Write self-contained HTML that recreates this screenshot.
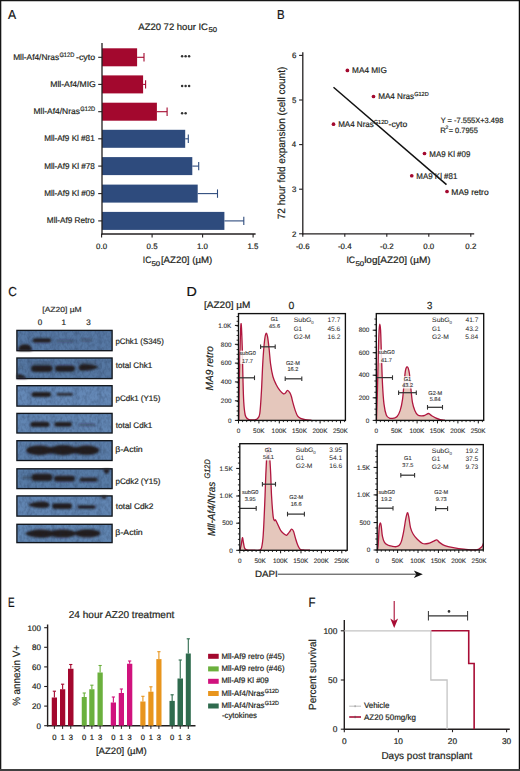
<!DOCTYPE html><html><head><meta charset="utf-8"><title>Figure</title><style>html,body{margin:0;padding:0;background:#fff;}svg{display:block;font-family:"Liberation Sans",sans-serif;text-rendering:geometricPrecision;}</style></head><body>
<svg width="520" height="771" viewBox="0 0 520 771">
<defs>
<filter id="bl1" x="-20%" y="-50%" width="140%" height="200%"><feGaussianBlur stdDeviation="1.3 1.0"/></filter><filter id="noise" x="0" y="0" width="100%" height="100%" color-interpolation-filters="sRGB"><feTurbulence type="fractalNoise" baseFrequency="0.4 0.25" numOctaves="2" seed="7"/><feColorMatrix type="matrix" values="0 0 0 0 0.1  0 0 0 0 0.15  0 0 0 0 0.25  0.5 0 0 0 -0.19"/></filter><filter id="bl2" x="-100%" y="-100%" width="300%" height="300%"><feGaussianBlur stdDeviation="0.35"/></filter>
</defs>
<rect width="520" height="771" fill="#fff"/>
<text x="8.10" y="18.75" font-size="13.0" fill="#111" stroke="#111" stroke-width="0.2" textLength="8.12" lengthAdjust="spacingAndGlyphs" >A</text>
<text x="138.30" y="30.00" font-size="9.36" fill="#231f20" stroke="#231f20" stroke-width="0.2" textLength="69.66" lengthAdjust="spacingAndGlyphs" >AZ20 72 hour IC</text>
<text x="208.49" y="32.40" font-size="7.0" fill="#231f20" stroke="#231f20" stroke-width="0.2" textLength="8.60" lengthAdjust="spacingAndGlyphs" >50</text>
<rect x="102.00" y="48.30" width="35.10" height="18.00" fill="#a3082e" />
<line x1="137.10" y1="57.30" x2="144.00" y2="57.30" stroke="#a3082e" stroke-width="1.1" />
<line x1="144.00" y1="53.10" x2="144.00" y2="61.50" stroke="#a3082e" stroke-width="1.1" />
<line x1="98.20" y1="57.30" x2="102.00" y2="57.30" stroke="#231f20" stroke-width="1.1" />
<rect x="102.00" y="75.40" width="41.10" height="18.00" fill="#a3082e" />
<line x1="143.10" y1="84.40" x2="145.60" y2="84.40" stroke="#a3082e" stroke-width="1.1" />
<line x1="145.60" y1="80.20" x2="145.60" y2="88.60" stroke="#a3082e" stroke-width="1.1" />
<line x1="98.20" y1="84.40" x2="102.00" y2="84.40" stroke="#231f20" stroke-width="1.1" />
<rect x="102.00" y="102.70" width="54.90" height="18.00" fill="#a3082e" />
<line x1="156.90" y1="111.70" x2="167.10" y2="111.70" stroke="#a3082e" stroke-width="1.1" />
<line x1="167.10" y1="107.50" x2="167.10" y2="115.90" stroke="#a3082e" stroke-width="1.1" />
<line x1="98.20" y1="111.70" x2="102.00" y2="111.70" stroke="#231f20" stroke-width="1.1" />
<rect x="102.00" y="129.80" width="83.20" height="18.00" fill="#2e4b7d" />
<line x1="185.20" y1="138.80" x2="188.30" y2="138.80" stroke="#2e4b7d" stroke-width="1.1" />
<line x1="188.30" y1="134.60" x2="188.30" y2="143.00" stroke="#2e4b7d" stroke-width="1.1" />
<line x1="98.20" y1="138.80" x2="102.00" y2="138.80" stroke="#231f20" stroke-width="1.1" />
<rect x="102.00" y="157.10" width="90.30" height="18.00" fill="#2e4b7d" />
<line x1="192.30" y1="166.10" x2="198.70" y2="166.10" stroke="#2e4b7d" stroke-width="1.1" />
<line x1="198.70" y1="161.90" x2="198.70" y2="170.30" stroke="#2e4b7d" stroke-width="1.1" />
<line x1="98.20" y1="166.10" x2="102.00" y2="166.10" stroke="#231f20" stroke-width="1.1" />
<rect x="102.00" y="184.60" width="95.70" height="18.00" fill="#2e4b7d" />
<line x1="197.70" y1="193.60" x2="217.50" y2="193.60" stroke="#2e4b7d" stroke-width="1.1" />
<line x1="217.50" y1="189.40" x2="217.50" y2="197.80" stroke="#2e4b7d" stroke-width="1.1" />
<line x1="98.20" y1="193.60" x2="102.00" y2="193.60" stroke="#231f20" stroke-width="1.1" />
<rect x="102.00" y="211.90" width="122.40" height="18.00" fill="#2e4b7d" />
<line x1="224.40" y1="220.90" x2="243.80" y2="220.90" stroke="#2e4b7d" stroke-width="1.1" />
<line x1="243.80" y1="216.70" x2="243.80" y2="225.10" stroke="#2e4b7d" stroke-width="1.1" />
<line x1="98.20" y1="220.90" x2="102.00" y2="220.90" stroke="#231f20" stroke-width="1.1" />
<text x="13.13" y="60.10" font-size="8.4" fill="#231f20" stroke="#231f20" stroke-width="0.2" textLength="45.97" lengthAdjust="spacingAndGlyphs" >Mll-Af4/Nras</text>
<text x="59.42" y="56.70" font-size="6.4" fill="#231f20" stroke="#231f20" stroke-width="0.2" textLength="14.85" lengthAdjust="spacingAndGlyphs" >G12D</text>
<text x="76.00" y="60.10" font-size="8.4" fill="#231f20" stroke="#231f20" stroke-width="0.2" textLength="19.17" lengthAdjust="spacingAndGlyphs" >-cyto</text>
<text x="50.21" y="87.00" font-size="8.4" fill="#231f20" stroke="#231f20" stroke-width="0.2" textLength="45.62" lengthAdjust="spacingAndGlyphs" >Mll-Af4/MIG</text>
<text x="33.53" y="113.90" font-size="8.4" fill="#231f20" stroke="#231f20" stroke-width="0.2" textLength="46.38" lengthAdjust="spacingAndGlyphs" >Mll-Af4/Nras</text>
<text x="80.32" y="110.50" font-size="6.4" fill="#231f20" stroke="#231f20" stroke-width="0.2" textLength="14.85" lengthAdjust="spacingAndGlyphs" >G12D</text>
<text x="44.15" y="141.40" font-size="8.4" fill="#231f20" stroke="#231f20" stroke-width="0.2" textLength="50.51" lengthAdjust="spacingAndGlyphs" >Mll-Af9 Kl #81</text>
<text x="44.15" y="168.60" font-size="8.4" fill="#231f20" stroke="#231f20" stroke-width="0.2" textLength="50.68" lengthAdjust="spacingAndGlyphs" >Mll-Af9 Kl #78</text>
<text x="44.15" y="195.90" font-size="8.4" fill="#231f20" stroke="#231f20" stroke-width="0.2" textLength="50.72" lengthAdjust="spacingAndGlyphs" >Mll-Af9 Kl #09</text>
<text x="46.84" y="223.10" font-size="8.4" fill="#231f20" stroke="#231f20" stroke-width="0.2" textLength="47.78" lengthAdjust="spacingAndGlyphs" >Mll-Af9 Retro</text>
<line x1="102.00" y1="42.90" x2="102.00" y2="234.60" stroke="#231f20" stroke-width="1.3" />
<line x1="101.40" y1="234.00" x2="255.60" y2="234.00" stroke="#231f20" stroke-width="1.3" />
<line x1="101.60" y1="234.00" x2="101.60" y2="237.60" stroke="#231f20" stroke-width="1.1" />
<text x="96.09" y="248.70" font-size="7.9" fill="#231f20" stroke="#231f20" stroke-width="0.2" >0.0</text>
<line x1="152.10" y1="234.00" x2="152.10" y2="237.60" stroke="#231f20" stroke-width="1.1" />
<text x="146.61" y="248.70" font-size="7.9" fill="#231f20" stroke="#231f20" stroke-width="0.2" >0.5</text>
<line x1="202.60" y1="234.00" x2="202.60" y2="237.60" stroke="#231f20" stroke-width="1.1" />
<text x="196.95" y="248.70" font-size="7.9" fill="#231f20" stroke="#231f20" stroke-width="0.2" >1.0</text>
<line x1="253.10" y1="234.00" x2="253.10" y2="237.60" stroke="#231f20" stroke-width="1.1" />
<text x="247.47" y="248.70" font-size="7.9" fill="#231f20" stroke="#231f20" stroke-width="0.2" >1.5</text>
<circle cx="182.10" cy="56.20" r="1.25" fill="#333" filter="url(#bl2)"/>
<circle cx="185.60" cy="56.20" r="1.25" fill="#333" filter="url(#bl2)"/>
<circle cx="189.10" cy="56.20" r="1.25" fill="#333" filter="url(#bl2)"/>
<circle cx="182.10" cy="86.00" r="1.25" fill="#333" filter="url(#bl2)"/>
<circle cx="185.60" cy="86.00" r="1.25" fill="#333" filter="url(#bl2)"/>
<circle cx="189.10" cy="86.00" r="1.25" fill="#333" filter="url(#bl2)"/>
<circle cx="182.10" cy="113.20" r="1.25" fill="#333" filter="url(#bl2)"/>
<circle cx="185.60" cy="113.20" r="1.25" fill="#333" filter="url(#bl2)"/>
<text x="142.84" y="262.80" font-size="9.36" fill="#231f20" stroke="#231f20" stroke-width="0.2" textLength="8.46" lengthAdjust="spacingAndGlyphs" >IC</text>
<text x="151.49" y="265.60" font-size="6.8" fill="#231f20" stroke="#231f20" stroke-width="0.2" textLength="8.71" lengthAdjust="spacingAndGlyphs" >50</text>
<text x="160.92" y="262.80" font-size="9.36" fill="#231f20" stroke="#231f20" stroke-width="0.2" textLength="51.40" lengthAdjust="spacingAndGlyphs" >[AZ20] (µM)</text>
<text x="277.09" y="18.75" font-size="13.0" fill="#111" stroke="#111" stroke-width="0.2" textLength="7.61" lengthAdjust="spacingAndGlyphs" >B</text>
<line x1="302.80" y1="52.30" x2="302.80" y2="234.40" stroke="#231f20" stroke-width="1.3" />
<line x1="302.20" y1="233.80" x2="474.20" y2="233.80" stroke="#231f20" stroke-width="1.3" />
<line x1="299.10" y1="233.80" x2="302.80" y2="233.80" stroke="#231f20" stroke-width="1.1" />
<text x="292.01" y="236.55" font-size="7.9" fill="#231f20" stroke="#231f20" stroke-width="0.2" >2</text>
<line x1="299.10" y1="189.20" x2="302.80" y2="189.20" stroke="#231f20" stroke-width="1.1" />
<text x="291.93" y="191.95" font-size="7.9" fill="#231f20" stroke="#231f20" stroke-width="0.2" >3</text>
<line x1="299.10" y1="144.60" x2="302.80" y2="144.60" stroke="#231f20" stroke-width="1.1" />
<text x="291.81" y="147.35" font-size="7.9" fill="#231f20" stroke="#231f20" stroke-width="0.2" >4</text>
<line x1="299.10" y1="100.00" x2="302.80" y2="100.00" stroke="#231f20" stroke-width="1.1" />
<text x="291.93" y="102.75" font-size="7.9" fill="#231f20" stroke="#231f20" stroke-width="0.2" >5</text>
<line x1="299.10" y1="55.40" x2="302.80" y2="55.40" stroke="#231f20" stroke-width="1.1" />
<text x="291.93" y="58.15" font-size="7.9" fill="#231f20" stroke="#231f20" stroke-width="0.2" >6</text>
<line x1="302.80" y1="233.80" x2="302.80" y2="236.80" stroke="#231f20" stroke-width="1.1" />
<text x="295.99" y="248.60" font-size="7.9" fill="#231f20" stroke="#231f20" stroke-width="0.2" >-0.6</text>
<line x1="344.80" y1="233.80" x2="344.80" y2="236.80" stroke="#231f20" stroke-width="1.1" />
<text x="337.93" y="248.60" font-size="7.9" fill="#231f20" stroke="#231f20" stroke-width="0.2" >-0.4</text>
<line x1="386.80" y1="233.80" x2="386.80" y2="236.80" stroke="#231f20" stroke-width="1.1" />
<text x="380.03" y="248.60" font-size="7.9" fill="#231f20" stroke="#231f20" stroke-width="0.2" >-0.2</text>
<line x1="428.80" y1="233.80" x2="428.80" y2="236.80" stroke="#231f20" stroke-width="1.1" />
<text x="423.29" y="248.60" font-size="7.9" fill="#231f20" stroke="#231f20" stroke-width="0.2" >0.0</text>
<line x1="470.80" y1="233.80" x2="470.80" y2="236.80" stroke="#231f20" stroke-width="1.1" />
<text x="465.35" y="248.60" font-size="7.9" fill="#231f20" stroke="#231f20" stroke-width="0.2" >0.2</text>
<line x1="333.50" y1="87.20" x2="446.50" y2="184.60" stroke="#111" stroke-width="1.5" />
<circle cx="347.4" cy="70.4" r="1.85" fill="#a3082e"/>
<circle cx="373.5" cy="96.5" r="1.85" fill="#a3082e"/>
<circle cx="333.5" cy="124.2" r="1.85" fill="#a3082e"/>
<circle cx="424.5" cy="153.5" r="1.85" fill="#a3082e"/>
<circle cx="411.75" cy="175.75" r="1.85" fill="#a3082e"/>
<circle cx="447" cy="191.5" r="1.85" fill="#a3082e"/>
<text x="352.04" y="73.40" font-size="8.4" fill="#231f20" stroke="#231f20" stroke-width="0.2" textLength="34.76" lengthAdjust="spacingAndGlyphs" >MA4 MIG</text>
<text x="378.15" y="99.30" font-size="8.4" fill="#231f20" stroke="#231f20" stroke-width="0.2" textLength="36.04" lengthAdjust="spacingAndGlyphs" >MA4 Nras</text>
<text x="414.22" y="95.90" font-size="5.8" fill="#231f20" stroke="#231f20" stroke-width="0.2" textLength="14.44" lengthAdjust="spacingAndGlyphs" >G12D</text>
<text x="338.16" y="127.00" font-size="8.4" fill="#231f20" stroke="#231f20" stroke-width="0.2" textLength="35.63" lengthAdjust="spacingAndGlyphs" >MA4 Nras</text>
<text x="373.72" y="123.60" font-size="5.8" fill="#231f20" stroke="#231f20" stroke-width="0.2" textLength="14.54" lengthAdjust="spacingAndGlyphs" >G12D</text>
<text x="388.61" y="127.00" font-size="8.4" fill="#231f20" stroke="#231f20" stroke-width="0.2" textLength="18.65" lengthAdjust="spacingAndGlyphs" >-cyto</text>
<text x="429.37" y="156.60" font-size="8.4" fill="#231f20" stroke="#231f20" stroke-width="0.2" textLength="40.99" lengthAdjust="spacingAndGlyphs" >MA9 Kl #09</text>
<text x="416.37" y="178.80" font-size="8.4" fill="#231f20" stroke="#231f20" stroke-width="0.2" textLength="40.99" lengthAdjust="spacingAndGlyphs" >MA9 Kl #81</text>
<text x="451.32" y="194.60" font-size="8.4" fill="#231f20" stroke="#231f20" stroke-width="0.2" textLength="37.32" lengthAdjust="spacingAndGlyphs" >MA9 retro</text>
<text x="440.65" y="122.50" font-size="7.7" fill="#231f20" stroke="#231f20" stroke-width="0.2" textLength="62.67" lengthAdjust="spacingAndGlyphs" >Y = -7.555X+3.498</text>
<text x="440.18" y="132.50" font-size="7.7" fill="#231f20" stroke="#231f20" stroke-width="0.2" >R</text>
<text x="445.55" y="129.00" font-size="5.0" fill="#231f20" stroke="#231f20" stroke-width="0.2" >2</text>
<text x="448.63" y="132.50" font-size="7.7" fill="#231f20" stroke="#231f20" stroke-width="0.2" textLength="29.17" lengthAdjust="spacingAndGlyphs" >= 0.7955</text>
<text transform="translate(285.00,218.70) rotate(-90)" x="-0.50" y="0" font-size="10.5" fill="#231f20" textLength="152.42" lengthAdjust="spacingAndGlyphs" stroke="#231f20" stroke-width="0.2">72 hour fold expansion (cell count)</text>
<text x="346.42" y="262.60" font-size="9.36" fill="#231f20" stroke="#231f20" stroke-width="0.2" textLength="8.69" lengthAdjust="spacingAndGlyphs" >IC</text>
<text x="355.49" y="265.50" font-size="6.8" fill="#231f20" stroke="#231f20" stroke-width="0.2" textLength="8.71" lengthAdjust="spacingAndGlyphs" >50</text>
<text x="364.15" y="262.60" font-size="9.36" fill="#231f20" stroke="#231f20" stroke-width="0.2" textLength="66.49" lengthAdjust="spacingAndGlyphs" >log[AZ20] (µM)</text>
<text x="8.16" y="296.30" font-size="13.0" fill="#111" stroke="#111" stroke-width="0.2" textLength="8.59" lengthAdjust="spacingAndGlyphs" >C</text>
<text x="42.30" y="312.10" font-size="7.4" fill="#333" stroke="#333" stroke-width="0.2" textLength="39.40" lengthAdjust="spacingAndGlyphs" >[AZ20] µM</text>
<text x="37.76" y="324.50" font-size="8.0" fill="#231f20" stroke="#231f20" stroke-width="0.2" >0</text>
<text x="61.46" y="324.50" font-size="8.0" fill="#231f20" stroke="#231f20" stroke-width="0.2" >1</text>
<text x="86.20" y="324.60" font-size="8.0" fill="#231f20" stroke="#231f20" stroke-width="0.2" >3</text>
<rect x="16.9" y="330.40" width="95.2" height="20.30" fill="#5678a4" stroke="#10151c" stroke-width="1.35"/>
<text x="115.49" y="343.60" font-size="8.0" fill="#231f20" stroke="#231f20" stroke-width="0.2" textLength="48.32" lengthAdjust="spacingAndGlyphs" >pChk1 (S345)</text>
<rect x="16.9" y="358.00" width="95.2" height="20.60" fill="#5577a2" stroke="#10151c" stroke-width="1.35"/>
<text x="115.88" y="368.10" font-size="8.0" fill="#231f20" stroke="#231f20" stroke-width="0.2" textLength="36.30" lengthAdjust="spacingAndGlyphs" >total Chk1</text>
<rect x="16.9" y="385.70" width="95.2" height="20.40" fill="#6488b6" stroke="#10151c" stroke-width="1.35"/>
<text x="115.48" y="401.30" font-size="8.0" fill="#231f20" stroke="#231f20" stroke-width="0.2" >pCdk1 (Y15)</text>
<rect x="16.9" y="413.40" width="95.2" height="19.60" fill="#6185b2" stroke="#10151c" stroke-width="1.35"/>
<text x="115.88" y="427.90" font-size="8.0" fill="#231f20" stroke="#231f20" stroke-width="0.2" textLength="36.30" lengthAdjust="spacingAndGlyphs" >total Cdk1</text>
<rect x="16.9" y="440.70" width="95.2" height="19.80" fill="#5b7eaa" stroke="#10151c" stroke-width="1.35"/>
<text x="115.39" y="452.30" font-size="8.0" fill="#231f20" stroke="#231f20" stroke-width="0.2" textLength="27.35" lengthAdjust="spacingAndGlyphs" >β-Actin</text>
<rect x="16.9" y="468.80" width="95.2" height="19.80" fill="#577ba6" stroke="#10151c" stroke-width="1.35"/>
<text x="115.48" y="484.40" font-size="8.0" fill="#231f20" stroke="#231f20" stroke-width="0.2" >pCdk2 (Y15)</text>
<rect x="16.9" y="495.90" width="95.2" height="20.20" fill="#6185b2" stroke="#10151c" stroke-width="1.35"/>
<text x="115.87" y="508.60" font-size="8.0" fill="#231f20" stroke="#231f20" stroke-width="0.2" textLength="37.56" lengthAdjust="spacingAndGlyphs" >total Cdk2</text>
<rect x="16.9" y="524.30" width="95.2" height="18.30" fill="#6085b1" stroke="#10151c" stroke-width="1.35"/>
<text x="115.39" y="534.80" font-size="8.0" fill="#231f20" stroke="#231f20" stroke-width="0.2" textLength="27.35" lengthAdjust="spacingAndGlyphs" >β-Actin</text>
<g filter="url(#bl1)">
<rect x="32.60" y="338.25" width="18.70" height="4.30" rx="2.15" ry="2.15" fill="#221c1f"/>
<rect x="56.00" y="339.40" width="18.00" height="3.20" rx="1.60" ry="1.60" fill="#221c1f" opacity="0.33"/>
<rect x="80.00" y="338.40" width="13.00" height="3.20" rx="1.60" ry="1.60" fill="#221c1f" opacity="0.3"/>
<path d="M18.5,351 L18.5,348 Q19.5,344.2 25,344.2 Q30.5,344.4 31.5,348 L31.5,351 Z" fill="#221c1f"/>
<rect x="31.00" y="365.30" width="21.50" height="6.60" rx="3.30" ry="3.30" fill="#221c1f"/>
<rect x="55.00" y="365.50" width="20.00" height="6.20" rx="3.10" ry="3.10" fill="#221c1f"/>
<path d="M78.6,367.6 Q78.6,364.0 84,364.0 Q93,364.2 98.4,366.4 Q98.6,368.0 93,369.4 Q84,371.2 80.5,370.8 Q78.6,370.0 78.6,367.6 Z" fill="#221c1f"/>
<rect x="32.00" y="361.75" width="20.00" height="2.50" rx="1.25" ry="1.25" fill="#221c1f" opacity="0.25"/>
<rect x="78.00" y="361.05" width="19.00" height="2.50" rx="1.25" ry="1.25" fill="#221c1f" opacity="0.25"/>
<path d="M17,374.5 Q22,373.5 27,378.5 L17,378.5 Z" fill="#221c1f"/>
<circle cx="21" cy="367" r="1" fill="#221c1f" opacity="0.5"/>
<rect x="31.50" y="391.90" width="19.60" height="5.00" rx="2.50" ry="2.50" fill="#221c1f"/>
<rect x="56.60" y="393.00" width="16.40" height="2.80" rx="1.40" ry="1.40" fill="#221c1f" opacity="0.9"/>
<rect x="30.50" y="421.80" width="19.00" height="5.20" rx="2.60" ry="2.60" fill="#221c1f"/>
<rect x="54.40" y="422.05" width="17.70" height="4.70" rx="2.35" ry="2.35" fill="#221c1f"/>
<rect x="78.50" y="423.65" width="17.10" height="2.30" rx="1.15" ry="1.15" fill="#221c1f" opacity="0.5"/>
<ellipse cx="39.2" cy="450.3" rx="13.0" ry="4.9" fill="#221c1f"/>
<ellipse cx="63.2" cy="450.2" rx="13.0" ry="5.1" fill="#221c1f"/>
<ellipse cx="86.6" cy="450.3" rx="12.6" ry="4.8" fill="#221c1f"/>
<rect x="30.00" y="446.90" width="65.00" height="6.60" rx="3.30" ry="3.30" fill="#221c1f"/>
<circle cx="104.6" cy="450.3" r="0.9" fill="#221c1f" opacity="0.7"/>
<rect x="31.50" y="473.70" width="21.00" height="7.40" rx="3.70" ry="3.70" fill="#221c1f"/>
<rect x="54.00" y="475.70" width="21.00" height="5.80" rx="2.90" ry="2.90" fill="#221c1f"/>
<rect x="79.50" y="477.80" width="18.10" height="3.80" rx="1.90" ry="1.90" fill="#221c1f"/>
<rect x="22.00" y="476.20" width="12.00" height="2.60" rx="1.30" ry="1.30" fill="#221c1f" opacity="0.45"/>
<path d="M103,469 L110,469 L108.5,472.5 Q106.5,475 104.5,472.5 Z" fill="#221c1f"/>
<path d="M28.5,504.3 Q34,501.2 44,501.4 Q49.5,502.0 49.5,505 Q49.5,508.0 44,508.0 Q34,507.9 28.5,505.4 Z" fill="#221c1f"/>
<rect x="52.10" y="503.20" width="20.00" height="5.80" rx="2.90" ry="2.90" fill="#221c1f"/>
<rect x="77.60" y="505.25" width="18.00" height="3.50" rx="1.75" ry="1.75" fill="#221c1f"/>
<path d="M101,496 L107,496 L105.5,498.5 Q104,499.5 102.5,498.5 Z" fill="#221c1f"/>
<path d="M24.6,533.6 Q30,529.6 40,529.4 Q50,529.6 52,531.2 L52,535.9 Q50,537.6 40,537.8 Q30,537.6 24.6,533.6 Z" fill="#221c1f"/>
<ellipse cx="62.5" cy="533.5" rx="13.5" ry="4.1" fill="#221c1f"/>
<ellipse cx="87.5" cy="533.3" rx="13.0" ry="4.0" fill="#221c1f"/>
</g>
<clipPath id="blotclip"><rect x="17.6" y="331.10" width="93.8" height="18.90"/><rect x="17.6" y="358.70" width="93.8" height="19.20"/><rect x="17.6" y="386.40" width="93.8" height="19.00"/><rect x="17.6" y="414.10" width="93.8" height="18.20"/><rect x="17.6" y="441.40" width="93.8" height="18.40"/><rect x="17.6" y="469.50" width="93.8" height="18.40"/><rect x="17.6" y="496.60" width="93.8" height="18.80"/><rect x="17.6" y="525.00" width="93.8" height="16.90"/></clipPath>
<g clip-path="url(#blotclip)"><rect x="17" y="330" width="95" height="213" filter="url(#noise)"/></g>
<g clip-path="url(#blotclip)" opacity="0.10">
<rect x="28.30" y="330" width="2.4" height="213" fill="#0a1830" filter="url(#bl1)"/>
<rect x="52.30" y="330" width="2.4" height="213" fill="#0a1830" filter="url(#bl1)"/>
<rect x="75.30" y="330" width="2.4" height="213" fill="#0a1830" filter="url(#bl1)"/>
<rect x="98.30" y="330" width="2.4" height="213" fill="#0a1830" filter="url(#bl1)"/>
</g>
<text x="186.56" y="296.30" font-size="13.0" fill="#111" stroke="#111" stroke-width="0.2" textLength="10.32" lengthAdjust="spacingAndGlyphs" >D</text>
<text x="204.00" y="307.50" font-size="9.36" fill="#231f20" stroke="#231f20" stroke-width="0.2" textLength="46.43" lengthAdjust="spacingAndGlyphs" >[AZ20] µM</text>
<text x="288.58" y="308.60" font-size="10.3" fill="#231f20" stroke="#231f20" stroke-width="0.2" textLength="5.79" lengthAdjust="spacingAndGlyphs" >0</text>
<text x="426.96" y="308.60" font-size="10.3" fill="#231f20" stroke="#231f20" stroke-width="0.2" textLength="5.33" lengthAdjust="spacingAndGlyphs" >3</text>
<text transform="translate(213.20,390.20) rotate(-90)" x="-0.30" y="0" font-size="10.4" fill="#231f20" textLength="44.41" lengthAdjust="spacingAndGlyphs" stroke="#231f20" stroke-width="0.2" font-style="italic">MA9 retro</text>
<text transform="translate(214.50,535.80) rotate(-90)" x="-0.30" y="0" font-size="10.4" fill="#231f20" textLength="54.30" lengthAdjust="spacingAndGlyphs" stroke="#231f20" stroke-width="0.2" font-style="italic">Mll-Af4/Nras</text>
<text transform="translate(210.40,478.20) rotate(-90)" x="-0.37" y="0" font-size="8.0" fill="#231f20" textLength="19.31" lengthAdjust="spacingAndGlyphs" stroke="#231f20" stroke-width="0.2" font-style="italic">G12D</text>
<text x="255.02" y="576.90" font-size="9.0" fill="#231f20" stroke="#231f20" stroke-width="0.2" textLength="22.80" lengthAdjust="spacingAndGlyphs" >DAPI</text>
<line x1="277.80" y1="574.20" x2="416.00" y2="574.20" stroke="#3a3a3a" stroke-width="1.0" />
<path d="M422.8,574.2 L413.8,570.5 L416.3,574.2 L413.8,577.9 Z" fill="#111"/>
<path d="M238.80,420.20 C238.90,412.92 239.05,392.45 239.40,376.50 C239.75,360.55 240.43,329.62 240.90,324.50 C241.37,319.38 241.87,337.13 242.20,345.80 C242.53,354.47 242.65,367.27 242.90,376.50 C243.15,385.73 243.32,394.78 243.70,401.20 C244.08,407.62 244.57,412.07 245.20,415.00 C245.83,417.93 246.70,418.00 247.50,418.80 C248.30,419.60 248.75,419.63 250.00,419.80 C251.25,419.97 253.75,420.00 255.00,419.80 C256.25,419.60 256.70,419.65 257.50,418.60 C258.30,417.55 259.15,417.93 259.80,413.50 C260.45,409.07 260.88,400.75 261.40,392.00 C261.92,383.25 262.38,369.50 262.90,361.00 C263.42,352.50 263.98,345.58 264.50,341.00 C265.02,336.42 265.50,334.25 266.00,333.50 C266.50,332.75 266.98,333.95 267.50,336.50 C268.02,339.05 268.58,344.18 269.10,348.80 C269.62,353.42 269.97,359.58 270.60,364.20 C271.23,368.82 272.00,373.17 272.90,376.50 C273.80,379.83 274.85,381.88 276.00,384.20 C277.15,386.52 278.55,388.80 279.80,390.40 C281.05,392.00 282.57,393.37 283.50,393.80 C284.43,394.23 284.73,393.57 285.40,393.00 C286.07,392.43 286.77,390.45 287.50,390.40 C288.23,390.35 289.15,391.68 289.80,392.70 C290.45,393.72 290.88,394.83 291.40,396.50 C291.92,398.17 292.27,400.38 292.90,402.70 C293.53,405.02 294.43,408.22 295.20,410.40 C295.97,412.58 296.60,414.47 297.50,415.80 C298.40,417.13 299.32,417.77 300.60,418.40 C301.88,419.03 303.40,419.30 305.20,419.60 C307.00,419.90 310.37,420.10 311.40,420.20 L311.40,420.40 L238.80,420.40 Z" fill="#e5c7bc"/>
<path d="M238.80,420.20 C238.90,412.92 239.05,392.45 239.40,376.50 C239.75,360.55 240.43,329.62 240.90,324.50 C241.37,319.38 241.87,337.13 242.20,345.80 C242.53,354.47 242.65,367.27 242.90,376.50 C243.15,385.73 243.32,394.78 243.70,401.20 C244.08,407.62 244.57,412.07 245.20,415.00 C245.83,417.93 246.70,418.00 247.50,418.80 C248.30,419.60 248.75,419.63 250.00,419.80 C251.25,419.97 253.75,420.00 255.00,419.80 C256.25,419.60 256.70,419.65 257.50,418.60 C258.30,417.55 259.15,417.93 259.80,413.50 C260.45,409.07 260.88,400.75 261.40,392.00 C261.92,383.25 262.38,369.50 262.90,361.00 C263.42,352.50 263.98,345.58 264.50,341.00 C265.02,336.42 265.50,334.25 266.00,333.50 C266.50,332.75 266.98,333.95 267.50,336.50 C268.02,339.05 268.58,344.18 269.10,348.80 C269.62,353.42 269.97,359.58 270.60,364.20 C271.23,368.82 272.00,373.17 272.90,376.50 C273.80,379.83 274.85,381.88 276.00,384.20 C277.15,386.52 278.55,388.80 279.80,390.40 C281.05,392.00 282.57,393.37 283.50,393.80 C284.43,394.23 284.73,393.57 285.40,393.00 C286.07,392.43 286.77,390.45 287.50,390.40 C288.23,390.35 289.15,391.68 289.80,392.70 C290.45,393.72 290.88,394.83 291.40,396.50 C291.92,398.17 292.27,400.38 292.90,402.70 C293.53,405.02 294.43,408.22 295.20,410.40 C295.97,412.58 296.60,414.47 297.50,415.80 C298.40,417.13 299.32,417.77 300.60,418.40 C301.88,419.03 303.40,419.30 305.20,419.60 C307.00,419.90 310.37,420.10 311.40,420.20" fill="none" stroke="#b0173f" stroke-width="1.3" stroke-linejoin="round"/>
<rect x="240.30" y="350.70" width="14.40" height="13.20" fill="#fff" fill-opacity="0.85"/>
<text x="239.28" y="355.30" font-size="5.6" fill="#3a3a3a" stroke="#3a3a3a" stroke-width="0.12" >subG0</text>
<text x="241.98" y="362.70" font-size="5.6" fill="#3a3a3a" stroke="#3a3a3a" stroke-width="0.12" >17.7</text>
<text x="270.75" y="321.20" font-size="5.6" fill="#3a3a3a" stroke="#3a3a3a" stroke-width="0.12" >G1</text>
<text x="269.11" y="328.10" font-size="5.6" fill="#3a3a3a" stroke="#3a3a3a" stroke-width="0.12" >45.6</text>
<text x="286.00" y="365.00" font-size="5.6" fill="#3a3a3a" stroke="#3a3a3a" stroke-width="0.12" >G2-M</text>
<text x="287.38" y="371.20" font-size="5.6" fill="#3a3a3a" stroke="#3a3a3a" stroke-width="0.12" >16.2</text>
<line x1="238.50" y1="377.80" x2="254.50" y2="377.80" stroke="#333" stroke-width="1.25" />
<line x1="254.50" y1="375.50" x2="254.50" y2="380.10" stroke="#333" stroke-width="1.1" />
<line x1="260.60" y1="346.80" x2="275.20" y2="346.80" stroke="#333" stroke-width="1.25" />
<line x1="275.20" y1="344.50" x2="275.20" y2="349.10" stroke="#333" stroke-width="1.1" />
<line x1="260.60" y1="344.50" x2="260.60" y2="349.10" stroke="#333" stroke-width="1.1" />
<line x1="285.20" y1="378.80" x2="301.80" y2="378.80" stroke="#333" stroke-width="1.25" />
<line x1="301.80" y1="376.50" x2="301.80" y2="381.10" stroke="#333" stroke-width="1.1" />
<line x1="285.20" y1="376.50" x2="285.20" y2="381.10" stroke="#333" stroke-width="1.1" />
<rect x="238.50" y="313.60" width="106.90" height="106.80" fill="none" stroke="#111" stroke-width="1.35"/>
<line x1="234.90" y1="325.40" x2="238.50" y2="325.40" stroke="#111" stroke-width="1.0" />
<text x="218.21" y="327.65" font-size="6.4" fill="#333" stroke="#333" stroke-width="0.12" >1.0K</text>
<line x1="234.90" y1="344.30" x2="238.50" y2="344.30" stroke="#111" stroke-width="1.0" />
<text x="220.87" y="346.55" font-size="6.4" fill="#333" stroke="#333" stroke-width="0.12" >800</text>
<line x1="234.90" y1="363.10" x2="238.50" y2="363.10" stroke="#111" stroke-width="1.0" />
<text x="220.87" y="365.35" font-size="6.4" fill="#333" stroke="#333" stroke-width="0.12" >600</text>
<line x1="234.90" y1="381.90" x2="238.50" y2="381.90" stroke="#111" stroke-width="1.0" />
<text x="220.87" y="384.15" font-size="6.4" fill="#333" stroke="#333" stroke-width="0.12" >400</text>
<line x1="234.90" y1="400.80" x2="238.50" y2="400.80" stroke="#111" stroke-width="1.0" />
<text x="220.87" y="403.05" font-size="6.4" fill="#333" stroke="#333" stroke-width="0.12" >200</text>
<line x1="234.90" y1="420.40" x2="238.50" y2="420.40" stroke="#111" stroke-width="1.0" />
<text x="227.97" y="422.65" font-size="6.4" fill="#333" stroke="#333" stroke-width="0.12" >0</text>
<line x1="236.60" y1="420.40" x2="238.50" y2="420.40" stroke="#111" stroke-width="0.9" />
<line x1="236.60" y1="415.68" x2="238.50" y2="415.68" stroke="#111" stroke-width="0.9" />
<line x1="236.60" y1="410.96" x2="238.50" y2="410.96" stroke="#111" stroke-width="0.9" />
<line x1="236.60" y1="406.24" x2="238.50" y2="406.24" stroke="#111" stroke-width="0.9" />
<line x1="236.60" y1="401.52" x2="238.50" y2="401.52" stroke="#111" stroke-width="0.9" />
<line x1="236.60" y1="396.80" x2="238.50" y2="396.80" stroke="#111" stroke-width="0.9" />
<line x1="236.60" y1="392.08" x2="238.50" y2="392.08" stroke="#111" stroke-width="0.9" />
<line x1="236.60" y1="387.36" x2="238.50" y2="387.36" stroke="#111" stroke-width="0.9" />
<line x1="236.60" y1="382.64" x2="238.50" y2="382.64" stroke="#111" stroke-width="0.9" />
<line x1="236.60" y1="377.92" x2="238.50" y2="377.92" stroke="#111" stroke-width="0.9" />
<line x1="236.60" y1="373.20" x2="238.50" y2="373.20" stroke="#111" stroke-width="0.9" />
<line x1="236.60" y1="368.48" x2="238.50" y2="368.48" stroke="#111" stroke-width="0.9" />
<line x1="236.60" y1="363.76" x2="238.50" y2="363.76" stroke="#111" stroke-width="0.9" />
<line x1="236.60" y1="359.04" x2="238.50" y2="359.04" stroke="#111" stroke-width="0.9" />
<line x1="236.60" y1="354.32" x2="238.50" y2="354.32" stroke="#111" stroke-width="0.9" />
<line x1="236.60" y1="349.60" x2="238.50" y2="349.60" stroke="#111" stroke-width="0.9" />
<line x1="236.60" y1="344.88" x2="238.50" y2="344.88" stroke="#111" stroke-width="0.9" />
<line x1="236.60" y1="340.16" x2="238.50" y2="340.16" stroke="#111" stroke-width="0.9" />
<line x1="236.60" y1="335.44" x2="238.50" y2="335.44" stroke="#111" stroke-width="0.9" />
<line x1="236.60" y1="330.72" x2="238.50" y2="330.72" stroke="#111" stroke-width="0.9" />
<line x1="236.60" y1="326.00" x2="238.50" y2="326.00" stroke="#111" stroke-width="0.9" />
<line x1="236.60" y1="321.28" x2="238.50" y2="321.28" stroke="#111" stroke-width="0.9" />
<line x1="236.60" y1="316.56" x2="238.50" y2="316.56" stroke="#111" stroke-width="0.9" />
<line x1="238.50" y1="420.40" x2="238.50" y2="423.40" stroke="#111" stroke-width="1.0" />
<line x1="242.58" y1="420.40" x2="242.58" y2="422.10" stroke="#111" stroke-width="0.9" />
<line x1="246.66" y1="420.40" x2="246.66" y2="422.10" stroke="#111" stroke-width="0.9" />
<line x1="250.74" y1="420.40" x2="250.74" y2="422.10" stroke="#111" stroke-width="0.9" />
<line x1="254.82" y1="420.40" x2="254.82" y2="422.10" stroke="#111" stroke-width="0.9" />
<line x1="258.90" y1="420.40" x2="258.90" y2="423.40" stroke="#111" stroke-width="1.0" />
<line x1="262.98" y1="420.40" x2="262.98" y2="422.10" stroke="#111" stroke-width="0.9" />
<line x1="267.06" y1="420.40" x2="267.06" y2="422.10" stroke="#111" stroke-width="0.9" />
<line x1="271.14" y1="420.40" x2="271.14" y2="422.10" stroke="#111" stroke-width="0.9" />
<line x1="275.22" y1="420.40" x2="275.22" y2="422.10" stroke="#111" stroke-width="0.9" />
<line x1="279.30" y1="420.40" x2="279.30" y2="423.40" stroke="#111" stroke-width="1.0" />
<line x1="283.38" y1="420.40" x2="283.38" y2="422.10" stroke="#111" stroke-width="0.9" />
<line x1="287.46" y1="420.40" x2="287.46" y2="422.10" stroke="#111" stroke-width="0.9" />
<line x1="291.54" y1="420.40" x2="291.54" y2="422.10" stroke="#111" stroke-width="0.9" />
<line x1="295.62" y1="420.40" x2="295.62" y2="422.10" stroke="#111" stroke-width="0.9" />
<line x1="299.70" y1="420.40" x2="299.70" y2="423.40" stroke="#111" stroke-width="1.0" />
<line x1="303.78" y1="420.40" x2="303.78" y2="422.10" stroke="#111" stroke-width="0.9" />
<line x1="307.86" y1="420.40" x2="307.86" y2="422.10" stroke="#111" stroke-width="0.9" />
<line x1="311.94" y1="420.40" x2="311.94" y2="422.10" stroke="#111" stroke-width="0.9" />
<line x1="316.02" y1="420.40" x2="316.02" y2="422.10" stroke="#111" stroke-width="0.9" />
<line x1="320.10" y1="420.40" x2="320.10" y2="423.40" stroke="#111" stroke-width="1.0" />
<line x1="324.18" y1="420.40" x2="324.18" y2="422.10" stroke="#111" stroke-width="0.9" />
<line x1="328.26" y1="420.40" x2="328.26" y2="422.10" stroke="#111" stroke-width="0.9" />
<line x1="332.34" y1="420.40" x2="332.34" y2="422.10" stroke="#111" stroke-width="0.9" />
<line x1="336.42" y1="420.40" x2="336.42" y2="422.10" stroke="#111" stroke-width="0.9" />
<line x1="340.50" y1="420.40" x2="340.50" y2="423.40" stroke="#111" stroke-width="1.0" />
<line x1="344.58" y1="420.40" x2="344.58" y2="422.10" stroke="#111" stroke-width="0.9" />
<text x="236.71" y="433.40" font-size="6.4" fill="#333" stroke="#333" stroke-width="0.12" >0</text>
<text x="253.12" y="433.40" font-size="6.4" fill="#333" stroke="#333" stroke-width="0.12" >50K</text>
<text x="271.62" y="433.40" font-size="6.4" fill="#333" stroke="#333" stroke-width="0.12" >100K</text>
<text x="292.02" y="433.40" font-size="6.4" fill="#333" stroke="#333" stroke-width="0.12" >150K</text>
<text x="312.50" y="433.40" font-size="6.4" fill="#333" stroke="#333" stroke-width="0.12" >200K</text>
<text x="332.90" y="433.40" font-size="6.4" fill="#333" stroke="#333" stroke-width="0.12" >250K</text>
<text x="293.69" y="322.20" font-size="6.6" fill="#2a2a2a" stroke="#2a2a2a" stroke-width="0.03" textLength="17.82" lengthAdjust="spacingAndGlyphs" >SubG</text>
<text x="311.32" y="324.10" font-size="4.4" fill="#2a2a2a" stroke="#2a2a2a" stroke-width="0.02" >0</text>
<text x="293.69" y="330.50" font-size="6.6" fill="#2a2a2a" stroke="#2a2a2a" stroke-width="0.03" textLength="8.39" lengthAdjust="spacingAndGlyphs" >G1</text>
<text x="293.66" y="338.50" font-size="6.6" fill="#2a2a2a" stroke="#2a2a2a" stroke-width="0.03" textLength="16.81" lengthAdjust="spacingAndGlyphs" >G2-M</text>
<text x="327.49" y="322.20" font-size="6.6" fill="#2a2a2a" stroke="#2a2a2a" stroke-width="0.03" >17.7</text>
<text x="327.43" y="330.50" font-size="6.6" fill="#2a2a2a" stroke="#2a2a2a" stroke-width="0.03" >45.6</text>
<text x="327.49" y="338.50" font-size="6.6" fill="#2a2a2a" stroke="#2a2a2a" stroke-width="0.03" >16.2</text>
<path d="M376.50,420.20 C376.65,415.48 377.10,403.02 377.40,391.90 C377.70,380.78 378.02,363.75 378.30,353.50 C378.58,343.25 378.85,335.28 379.10,330.40 C379.35,325.52 379.55,324.20 379.80,324.20 C380.05,324.20 380.33,325.52 380.60,330.40 C380.87,335.28 381.08,344.53 381.40,353.50 C381.72,362.47 382.07,375.75 382.50,384.20 C382.93,392.65 383.37,399.07 384.00,404.20 C384.63,409.33 385.40,412.68 386.30,415.00 C387.20,417.32 388.12,417.58 389.40,418.10 C390.68,418.62 392.72,418.37 394.00,418.10 C395.28,417.83 396.07,417.78 397.10,416.50 C398.13,415.22 399.30,413.22 400.20,410.40 C401.10,407.58 401.87,403.97 402.50,399.60 C403.13,395.23 403.50,389.07 404.00,384.20 C404.50,379.33 404.92,373.27 405.50,370.40 C406.08,367.53 406.85,366.48 407.50,367.00 C408.15,367.52 408.83,369.87 409.40,373.50 C409.97,377.13 410.38,383.93 410.90,388.80 C411.42,393.67 411.85,399.10 412.50,402.70 C413.15,406.30 413.92,408.35 414.80,410.40 C415.68,412.45 416.65,414.10 417.80,415.00 C418.95,415.90 420.53,415.75 421.70,415.80 C422.87,415.85 423.65,415.68 424.80,415.30 C425.95,414.92 427.45,413.42 428.60,413.50 C429.75,413.58 430.55,415.08 431.70,415.80 C432.85,416.52 434.08,417.17 435.50,417.80 C436.92,418.43 438.65,419.20 440.20,419.60 C441.75,420.00 444.03,420.10 444.80,420.20 L444.80,420.40 L376.50,420.40 Z" fill="#e5c7bc"/>
<path d="M376.50,420.20 C376.65,415.48 377.10,403.02 377.40,391.90 C377.70,380.78 378.02,363.75 378.30,353.50 C378.58,343.25 378.85,335.28 379.10,330.40 C379.35,325.52 379.55,324.20 379.80,324.20 C380.05,324.20 380.33,325.52 380.60,330.40 C380.87,335.28 381.08,344.53 381.40,353.50 C381.72,362.47 382.07,375.75 382.50,384.20 C382.93,392.65 383.37,399.07 384.00,404.20 C384.63,409.33 385.40,412.68 386.30,415.00 C387.20,417.32 388.12,417.58 389.40,418.10 C390.68,418.62 392.72,418.37 394.00,418.10 C395.28,417.83 396.07,417.78 397.10,416.50 C398.13,415.22 399.30,413.22 400.20,410.40 C401.10,407.58 401.87,403.97 402.50,399.60 C403.13,395.23 403.50,389.07 404.00,384.20 C404.50,379.33 404.92,373.27 405.50,370.40 C406.08,367.53 406.85,366.48 407.50,367.00 C408.15,367.52 408.83,369.87 409.40,373.50 C409.97,377.13 410.38,383.93 410.90,388.80 C411.42,393.67 411.85,399.10 412.50,402.70 C413.15,406.30 413.92,408.35 414.80,410.40 C415.68,412.45 416.65,414.10 417.80,415.00 C418.95,415.90 420.53,415.75 421.70,415.80 C422.87,415.85 423.65,415.68 424.80,415.30 C425.95,414.92 427.45,413.42 428.60,413.50 C429.75,413.58 430.55,415.08 431.70,415.80 C432.85,416.52 434.08,417.17 435.50,417.80 C436.92,418.43 438.65,419.20 440.20,419.60 C441.75,420.00 444.03,420.10 444.80,420.20" fill="none" stroke="#b0173f" stroke-width="1.3" stroke-linejoin="round"/>
<rect x="379.10" y="349.60" width="14.40" height="13.50" fill="#fff" fill-opacity="0.85"/>
<text x="378.08" y="354.20" font-size="5.6" fill="#3a3a3a" stroke="#3a3a3a" stroke-width="0.12" >subG0</text>
<text x="380.94" y="361.90" font-size="5.6" fill="#3a3a3a" stroke="#3a3a3a" stroke-width="0.12" >41.7</text>
<rect x="400.30" y="376.20" width="14.40" height="12.30" fill="#fff" fill-opacity="0.85"/>
<text x="403.75" y="380.80" font-size="5.6" fill="#3a3a3a" stroke="#3a3a3a" stroke-width="0.12" >G1</text>
<text x="402.14" y="387.30" font-size="5.6" fill="#3a3a3a" stroke="#3a3a3a" stroke-width="0.12" >43.2</text>
<text x="428.30" y="395.00" font-size="5.6" fill="#3a3a3a" stroke="#3a3a3a" stroke-width="0.12" >G2-M</text>
<text x="429.71" y="401.20" font-size="5.6" fill="#3a3a3a" stroke="#3a3a3a" stroke-width="0.12" >5.84</text>
<line x1="376.30" y1="377.60" x2="392.50" y2="377.60" stroke="#333" stroke-width="1.25" />
<line x1="392.50" y1="375.30" x2="392.50" y2="379.90" stroke="#333" stroke-width="1.1" />
<line x1="398.60" y1="392.70" x2="416.30" y2="392.70" stroke="#333" stroke-width="1.25" />
<line x1="416.30" y1="390.40" x2="416.30" y2="395.00" stroke="#333" stroke-width="1.1" />
<line x1="398.60" y1="390.40" x2="398.60" y2="395.00" stroke="#333" stroke-width="1.1" />
<line x1="427.50" y1="407.30" x2="442.50" y2="407.30" stroke="#333" stroke-width="1.25" />
<line x1="442.50" y1="405.00" x2="442.50" y2="409.60" stroke="#333" stroke-width="1.1" />
<line x1="427.50" y1="405.00" x2="427.50" y2="409.60" stroke="#333" stroke-width="1.1" />
<rect x="376.30" y="313.60" width="107.40" height="106.80" fill="none" stroke="#111" stroke-width="1.35"/>
<line x1="372.70" y1="330.20" x2="376.30" y2="330.20" stroke="#111" stroke-width="1.0" />
<text x="358.67" y="332.45" font-size="6.4" fill="#333" stroke="#333" stroke-width="0.12" >800</text>
<line x1="372.70" y1="352.70" x2="376.30" y2="352.70" stroke="#111" stroke-width="1.0" />
<text x="358.67" y="354.95" font-size="6.4" fill="#333" stroke="#333" stroke-width="0.12" >600</text>
<line x1="372.70" y1="375.20" x2="376.30" y2="375.20" stroke="#111" stroke-width="1.0" />
<text x="358.67" y="377.45" font-size="6.4" fill="#333" stroke="#333" stroke-width="0.12" >400</text>
<line x1="372.70" y1="397.80" x2="376.30" y2="397.80" stroke="#111" stroke-width="1.0" />
<text x="358.67" y="400.05" font-size="6.4" fill="#333" stroke="#333" stroke-width="0.12" >200</text>
<line x1="372.70" y1="420.40" x2="376.30" y2="420.40" stroke="#111" stroke-width="1.0" />
<text x="365.77" y="422.65" font-size="6.4" fill="#333" stroke="#333" stroke-width="0.12" >0</text>
<line x1="374.40" y1="420.40" x2="376.30" y2="420.40" stroke="#111" stroke-width="0.9" />
<line x1="374.40" y1="414.77" x2="376.30" y2="414.77" stroke="#111" stroke-width="0.9" />
<line x1="374.40" y1="409.14" x2="376.30" y2="409.14" stroke="#111" stroke-width="0.9" />
<line x1="374.40" y1="403.51" x2="376.30" y2="403.51" stroke="#111" stroke-width="0.9" />
<line x1="374.40" y1="397.88" x2="376.30" y2="397.88" stroke="#111" stroke-width="0.9" />
<line x1="374.40" y1="392.25" x2="376.30" y2="392.25" stroke="#111" stroke-width="0.9" />
<line x1="374.40" y1="386.62" x2="376.30" y2="386.62" stroke="#111" stroke-width="0.9" />
<line x1="374.40" y1="380.99" x2="376.30" y2="380.99" stroke="#111" stroke-width="0.9" />
<line x1="374.40" y1="375.36" x2="376.30" y2="375.36" stroke="#111" stroke-width="0.9" />
<line x1="374.40" y1="369.73" x2="376.30" y2="369.73" stroke="#111" stroke-width="0.9" />
<line x1="374.40" y1="364.10" x2="376.30" y2="364.10" stroke="#111" stroke-width="0.9" />
<line x1="374.40" y1="358.47" x2="376.30" y2="358.47" stroke="#111" stroke-width="0.9" />
<line x1="374.40" y1="352.84" x2="376.30" y2="352.84" stroke="#111" stroke-width="0.9" />
<line x1="374.40" y1="347.21" x2="376.30" y2="347.21" stroke="#111" stroke-width="0.9" />
<line x1="374.40" y1="341.58" x2="376.30" y2="341.58" stroke="#111" stroke-width="0.9" />
<line x1="374.40" y1="335.95" x2="376.30" y2="335.95" stroke="#111" stroke-width="0.9" />
<line x1="374.40" y1="330.32" x2="376.30" y2="330.32" stroke="#111" stroke-width="0.9" />
<line x1="374.40" y1="324.69" x2="376.30" y2="324.69" stroke="#111" stroke-width="0.9" />
<line x1="374.40" y1="319.06" x2="376.30" y2="319.06" stroke="#111" stroke-width="0.9" />
<line x1="376.30" y1="420.40" x2="376.30" y2="423.40" stroke="#111" stroke-width="1.0" />
<line x1="380.38" y1="420.40" x2="380.38" y2="422.10" stroke="#111" stroke-width="0.9" />
<line x1="384.46" y1="420.40" x2="384.46" y2="422.10" stroke="#111" stroke-width="0.9" />
<line x1="388.54" y1="420.40" x2="388.54" y2="422.10" stroke="#111" stroke-width="0.9" />
<line x1="392.62" y1="420.40" x2="392.62" y2="422.10" stroke="#111" stroke-width="0.9" />
<line x1="396.70" y1="420.40" x2="396.70" y2="423.40" stroke="#111" stroke-width="1.0" />
<line x1="400.78" y1="420.40" x2="400.78" y2="422.10" stroke="#111" stroke-width="0.9" />
<line x1="404.86" y1="420.40" x2="404.86" y2="422.10" stroke="#111" stroke-width="0.9" />
<line x1="408.94" y1="420.40" x2="408.94" y2="422.10" stroke="#111" stroke-width="0.9" />
<line x1="413.02" y1="420.40" x2="413.02" y2="422.10" stroke="#111" stroke-width="0.9" />
<line x1="417.10" y1="420.40" x2="417.10" y2="423.40" stroke="#111" stroke-width="1.0" />
<line x1="421.18" y1="420.40" x2="421.18" y2="422.10" stroke="#111" stroke-width="0.9" />
<line x1="425.26" y1="420.40" x2="425.26" y2="422.10" stroke="#111" stroke-width="0.9" />
<line x1="429.34" y1="420.40" x2="429.34" y2="422.10" stroke="#111" stroke-width="0.9" />
<line x1="433.42" y1="420.40" x2="433.42" y2="422.10" stroke="#111" stroke-width="0.9" />
<line x1="437.50" y1="420.40" x2="437.50" y2="423.40" stroke="#111" stroke-width="1.0" />
<line x1="441.58" y1="420.40" x2="441.58" y2="422.10" stroke="#111" stroke-width="0.9" />
<line x1="445.66" y1="420.40" x2="445.66" y2="422.10" stroke="#111" stroke-width="0.9" />
<line x1="449.74" y1="420.40" x2="449.74" y2="422.10" stroke="#111" stroke-width="0.9" />
<line x1="453.82" y1="420.40" x2="453.82" y2="422.10" stroke="#111" stroke-width="0.9" />
<line x1="457.90" y1="420.40" x2="457.90" y2="423.40" stroke="#111" stroke-width="1.0" />
<line x1="461.98" y1="420.40" x2="461.98" y2="422.10" stroke="#111" stroke-width="0.9" />
<line x1="466.06" y1="420.40" x2="466.06" y2="422.10" stroke="#111" stroke-width="0.9" />
<line x1="470.14" y1="420.40" x2="470.14" y2="422.10" stroke="#111" stroke-width="0.9" />
<line x1="474.22" y1="420.40" x2="474.22" y2="422.10" stroke="#111" stroke-width="0.9" />
<line x1="478.30" y1="420.40" x2="478.30" y2="423.40" stroke="#111" stroke-width="1.0" />
<line x1="482.38" y1="420.40" x2="482.38" y2="422.10" stroke="#111" stroke-width="0.9" />
<text x="374.51" y="433.40" font-size="6.4" fill="#333" stroke="#333" stroke-width="0.12" >0</text>
<text x="390.92" y="433.40" font-size="6.4" fill="#333" stroke="#333" stroke-width="0.12" >50K</text>
<text x="409.42" y="433.40" font-size="6.4" fill="#333" stroke="#333" stroke-width="0.12" >100K</text>
<text x="429.82" y="433.40" font-size="6.4" fill="#333" stroke="#333" stroke-width="0.12" >150K</text>
<text x="450.30" y="433.40" font-size="6.4" fill="#333" stroke="#333" stroke-width="0.12" >200K</text>
<text x="470.70" y="433.40" font-size="6.4" fill="#333" stroke="#333" stroke-width="0.12" >250K</text>
<text x="431.99" y="322.20" font-size="6.6" fill="#2a2a2a" stroke="#2a2a2a" stroke-width="0.03" textLength="17.82" lengthAdjust="spacingAndGlyphs" >SubG</text>
<text x="449.62" y="324.10" font-size="4.4" fill="#2a2a2a" stroke="#2a2a2a" stroke-width="0.02" >0</text>
<text x="431.99" y="330.50" font-size="6.6" fill="#2a2a2a" stroke="#2a2a2a" stroke-width="0.03" textLength="8.39" lengthAdjust="spacingAndGlyphs" >G1</text>
<text x="431.96" y="338.50" font-size="6.6" fill="#2a2a2a" stroke="#2a2a2a" stroke-width="0.03" textLength="16.81" lengthAdjust="spacingAndGlyphs" >G2-M</text>
<text x="465.49" y="322.20" font-size="6.6" fill="#2a2a2a" stroke="#2a2a2a" stroke-width="0.03" >41.7</text>
<text x="465.49" y="330.50" font-size="6.6" fill="#2a2a2a" stroke="#2a2a2a" stroke-width="0.03" >43.2</text>
<text x="465.33" y="338.50" font-size="6.6" fill="#2a2a2a" stroke="#2a2a2a" stroke-width="0.03" >5.84</text>
<path d="M240.00,550.10 C240.22,549.17 240.90,546.58 241.30,544.50 C241.70,542.42 242.03,537.85 242.40,537.60 C242.77,537.35 243.12,541.20 243.50,543.00 C243.88,544.80 244.12,547.25 244.70,548.40 C245.28,549.55 245.78,549.62 247.00,549.90 C248.22,550.18 249.92,550.07 252.00,550.10 C254.08,550.13 257.90,550.52 259.50,550.10 C261.10,549.68 260.98,550.07 261.60,547.60 C262.22,545.13 262.68,542.48 263.20,535.30 C263.72,528.12 264.27,514.55 264.70,504.50 C265.13,494.45 265.48,482.75 265.80,475.00 C266.12,467.25 266.35,462.42 266.60,458.00 C266.85,453.58 267.03,449.42 267.30,448.50 C267.57,447.58 267.90,452.58 268.20,452.50 C268.50,452.42 268.82,446.75 269.10,448.00 C269.38,449.25 269.63,455.67 269.90,460.00 C270.17,464.33 270.42,467.87 270.70,474.00 C270.98,480.13 271.18,489.67 271.60,496.80 C272.02,503.93 272.68,512.82 273.20,516.80 C273.72,520.78 274.32,520.18 274.70,520.70 C275.08,521.22 274.98,519.27 275.50,519.90 C276.02,520.53 276.92,522.70 277.80,524.50 C278.68,526.30 279.78,529.15 280.80,530.70 C281.82,532.25 282.95,533.03 283.90,533.80 C284.85,534.57 285.60,535.57 286.50,535.30 C287.40,535.03 288.45,533.22 289.30,532.20 C290.15,531.18 290.88,529.32 291.60,529.20 C292.32,529.08 292.95,529.97 293.60,531.50 C294.25,533.03 294.80,536.10 295.50,538.40 C296.20,540.70 297.03,543.50 297.80,545.30 C298.57,547.10 298.95,548.40 300.10,549.20 C301.25,550.00 303.05,549.93 304.70,550.10 C306.35,550.27 309.12,550.18 310.00,550.20 L310.00,550.30 L240.00,550.30 Z" fill="#e5c7bc"/>
<path d="M240.00,550.10 C240.22,549.17 240.90,546.58 241.30,544.50 C241.70,542.42 242.03,537.85 242.40,537.60 C242.77,537.35 243.12,541.20 243.50,543.00 C243.88,544.80 244.12,547.25 244.70,548.40 C245.28,549.55 245.78,549.62 247.00,549.90 C248.22,550.18 249.92,550.07 252.00,550.10 C254.08,550.13 257.90,550.52 259.50,550.10 C261.10,549.68 260.98,550.07 261.60,547.60 C262.22,545.13 262.68,542.48 263.20,535.30 C263.72,528.12 264.27,514.55 264.70,504.50 C265.13,494.45 265.48,482.75 265.80,475.00 C266.12,467.25 266.35,462.42 266.60,458.00 C266.85,453.58 267.03,449.42 267.30,448.50 C267.57,447.58 267.90,452.58 268.20,452.50 C268.50,452.42 268.82,446.75 269.10,448.00 C269.38,449.25 269.63,455.67 269.90,460.00 C270.17,464.33 270.42,467.87 270.70,474.00 C270.98,480.13 271.18,489.67 271.60,496.80 C272.02,503.93 272.68,512.82 273.20,516.80 C273.72,520.78 274.32,520.18 274.70,520.70 C275.08,521.22 274.98,519.27 275.50,519.90 C276.02,520.53 276.92,522.70 277.80,524.50 C278.68,526.30 279.78,529.15 280.80,530.70 C281.82,532.25 282.95,533.03 283.90,533.80 C284.85,534.57 285.60,535.57 286.50,535.30 C287.40,535.03 288.45,533.22 289.30,532.20 C290.15,531.18 290.88,529.32 291.60,529.20 C292.32,529.08 292.95,529.97 293.60,531.50 C294.25,533.03 294.80,536.10 295.50,538.40 C296.20,540.70 297.03,543.50 297.80,545.30 C298.57,547.10 298.95,548.40 300.10,549.20 C301.25,550.00 303.05,549.93 304.70,550.10 C306.35,550.27 309.12,550.18 310.00,550.20" fill="none" stroke="#b0173f" stroke-width="1.3" stroke-linejoin="round"/>
<text x="241.88" y="493.80" font-size="5.6" fill="#3a3a3a" stroke="#3a3a3a" stroke-width="0.12" >subG0</text>
<text x="244.67" y="501.20" font-size="5.6" fill="#3a3a3a" stroke="#3a3a3a" stroke-width="0.12" >3.95</text>
<rect x="261.30" y="447.60" width="14.40" height="12.80" fill="#fff" fill-opacity="0.85"/>
<text x="264.75" y="452.20" font-size="5.6" fill="#3a3a3a" stroke="#3a3a3a" stroke-width="0.12" >G1</text>
<text x="263.07" y="459.20" font-size="5.6" fill="#3a3a3a" stroke="#3a3a3a" stroke-width="0.12" >54.1</text>
<text x="289.30" y="499.20" font-size="5.6" fill="#3a3a3a" stroke="#3a3a3a" stroke-width="0.12" >G2-M</text>
<text x="290.66" y="506.40" font-size="5.6" fill="#3a3a3a" stroke="#3a3a3a" stroke-width="0.12" >16.6</text>
<line x1="239.80" y1="508.40" x2="256.20" y2="508.40" stroke="#333" stroke-width="1.25" />
<line x1="256.20" y1="506.10" x2="256.20" y2="510.70" stroke="#333" stroke-width="1.1" />
<line x1="262.40" y1="484.20" x2="275.50" y2="484.20" stroke="#333" stroke-width="1.25" />
<line x1="275.50" y1="481.90" x2="275.50" y2="486.50" stroke="#333" stroke-width="1.1" />
<line x1="262.40" y1="481.90" x2="262.40" y2="486.50" stroke="#333" stroke-width="1.1" />
<line x1="287.50" y1="514.10" x2="304.40" y2="514.10" stroke="#333" stroke-width="1.25" />
<line x1="304.40" y1="511.80" x2="304.40" y2="516.40" stroke="#333" stroke-width="1.1" />
<line x1="287.50" y1="511.80" x2="287.50" y2="516.40" stroke="#333" stroke-width="1.1" />
<rect x="239.80" y="443.70" width="107.40" height="106.60" fill="none" stroke="#111" stroke-width="1.35"/>
<line x1="236.20" y1="468.40" x2="239.80" y2="468.40" stroke="#111" stroke-width="1.0" />
<text x="219.51" y="470.65" font-size="6.4" fill="#333" stroke="#333" stroke-width="0.12" >1.5K</text>
<line x1="236.20" y1="496.00" x2="239.80" y2="496.00" stroke="#111" stroke-width="1.0" />
<text x="219.51" y="498.25" font-size="6.4" fill="#333" stroke="#333" stroke-width="0.12" >1.0K</text>
<line x1="236.20" y1="523.20" x2="239.80" y2="523.20" stroke="#111" stroke-width="1.0" />
<text x="222.17" y="525.45" font-size="6.4" fill="#333" stroke="#333" stroke-width="0.12" >500</text>
<line x1="236.20" y1="550.30" x2="239.80" y2="550.30" stroke="#111" stroke-width="1.0" />
<text x="229.27" y="552.55" font-size="6.4" fill="#333" stroke="#333" stroke-width="0.12" >0</text>
<line x1="237.90" y1="550.30" x2="239.80" y2="550.30" stroke="#111" stroke-width="0.9" />
<line x1="237.90" y1="544.85" x2="239.80" y2="544.85" stroke="#111" stroke-width="0.9" />
<line x1="237.90" y1="539.40" x2="239.80" y2="539.40" stroke="#111" stroke-width="0.9" />
<line x1="237.90" y1="533.95" x2="239.80" y2="533.95" stroke="#111" stroke-width="0.9" />
<line x1="237.90" y1="528.50" x2="239.80" y2="528.50" stroke="#111" stroke-width="0.9" />
<line x1="237.90" y1="523.05" x2="239.80" y2="523.05" stroke="#111" stroke-width="0.9" />
<line x1="237.90" y1="517.60" x2="239.80" y2="517.60" stroke="#111" stroke-width="0.9" />
<line x1="237.90" y1="512.15" x2="239.80" y2="512.15" stroke="#111" stroke-width="0.9" />
<line x1="237.90" y1="506.70" x2="239.80" y2="506.70" stroke="#111" stroke-width="0.9" />
<line x1="237.90" y1="501.25" x2="239.80" y2="501.25" stroke="#111" stroke-width="0.9" />
<line x1="237.90" y1="495.80" x2="239.80" y2="495.80" stroke="#111" stroke-width="0.9" />
<line x1="237.90" y1="490.35" x2="239.80" y2="490.35" stroke="#111" stroke-width="0.9" />
<line x1="237.90" y1="484.90" x2="239.80" y2="484.90" stroke="#111" stroke-width="0.9" />
<line x1="237.90" y1="479.45" x2="239.80" y2="479.45" stroke="#111" stroke-width="0.9" />
<line x1="237.90" y1="474.00" x2="239.80" y2="474.00" stroke="#111" stroke-width="0.9" />
<line x1="237.90" y1="468.55" x2="239.80" y2="468.55" stroke="#111" stroke-width="0.9" />
<line x1="237.90" y1="463.10" x2="239.80" y2="463.10" stroke="#111" stroke-width="0.9" />
<line x1="237.90" y1="457.65" x2="239.80" y2="457.65" stroke="#111" stroke-width="0.9" />
<line x1="237.90" y1="452.20" x2="239.80" y2="452.20" stroke="#111" stroke-width="0.9" />
<line x1="237.90" y1="446.75" x2="239.80" y2="446.75" stroke="#111" stroke-width="0.9" />
<line x1="239.80" y1="550.30" x2="239.80" y2="553.30" stroke="#111" stroke-width="1.0" />
<line x1="243.88" y1="550.30" x2="243.88" y2="552.00" stroke="#111" stroke-width="0.9" />
<line x1="247.96" y1="550.30" x2="247.96" y2="552.00" stroke="#111" stroke-width="0.9" />
<line x1="252.04" y1="550.30" x2="252.04" y2="552.00" stroke="#111" stroke-width="0.9" />
<line x1="256.12" y1="550.30" x2="256.12" y2="552.00" stroke="#111" stroke-width="0.9" />
<line x1="260.20" y1="550.30" x2="260.20" y2="553.30" stroke="#111" stroke-width="1.0" />
<line x1="264.28" y1="550.30" x2="264.28" y2="552.00" stroke="#111" stroke-width="0.9" />
<line x1="268.36" y1="550.30" x2="268.36" y2="552.00" stroke="#111" stroke-width="0.9" />
<line x1="272.44" y1="550.30" x2="272.44" y2="552.00" stroke="#111" stroke-width="0.9" />
<line x1="276.52" y1="550.30" x2="276.52" y2="552.00" stroke="#111" stroke-width="0.9" />
<line x1="280.60" y1="550.30" x2="280.60" y2="553.30" stroke="#111" stroke-width="1.0" />
<line x1="284.68" y1="550.30" x2="284.68" y2="552.00" stroke="#111" stroke-width="0.9" />
<line x1="288.76" y1="550.30" x2="288.76" y2="552.00" stroke="#111" stroke-width="0.9" />
<line x1="292.84" y1="550.30" x2="292.84" y2="552.00" stroke="#111" stroke-width="0.9" />
<line x1="296.92" y1="550.30" x2="296.92" y2="552.00" stroke="#111" stroke-width="0.9" />
<line x1="301.00" y1="550.30" x2="301.00" y2="553.30" stroke="#111" stroke-width="1.0" />
<line x1="305.08" y1="550.30" x2="305.08" y2="552.00" stroke="#111" stroke-width="0.9" />
<line x1="309.16" y1="550.30" x2="309.16" y2="552.00" stroke="#111" stroke-width="0.9" />
<line x1="313.24" y1="550.30" x2="313.24" y2="552.00" stroke="#111" stroke-width="0.9" />
<line x1="317.32" y1="550.30" x2="317.32" y2="552.00" stroke="#111" stroke-width="0.9" />
<line x1="321.40" y1="550.30" x2="321.40" y2="553.30" stroke="#111" stroke-width="1.0" />
<line x1="325.48" y1="550.30" x2="325.48" y2="552.00" stroke="#111" stroke-width="0.9" />
<line x1="329.56" y1="550.30" x2="329.56" y2="552.00" stroke="#111" stroke-width="0.9" />
<line x1="333.64" y1="550.30" x2="333.64" y2="552.00" stroke="#111" stroke-width="0.9" />
<line x1="337.72" y1="550.30" x2="337.72" y2="552.00" stroke="#111" stroke-width="0.9" />
<line x1="341.80" y1="550.30" x2="341.80" y2="553.30" stroke="#111" stroke-width="1.0" />
<line x1="345.88" y1="550.30" x2="345.88" y2="552.00" stroke="#111" stroke-width="0.9" />
<text x="238.01" y="563.30" font-size="6.4" fill="#333" stroke="#333" stroke-width="0.12" >0</text>
<text x="254.42" y="563.30" font-size="6.4" fill="#333" stroke="#333" stroke-width="0.12" >50K</text>
<text x="272.92" y="563.30" font-size="6.4" fill="#333" stroke="#333" stroke-width="0.12" >100K</text>
<text x="293.32" y="563.30" font-size="6.4" fill="#333" stroke="#333" stroke-width="0.12" >150K</text>
<text x="313.80" y="563.30" font-size="6.4" fill="#333" stroke="#333" stroke-width="0.12" >200K</text>
<text x="334.20" y="563.30" font-size="6.4" fill="#333" stroke="#333" stroke-width="0.12" >250K</text>
<text x="295.69" y="452.20" font-size="6.6" fill="#2a2a2a" stroke="#2a2a2a" stroke-width="0.03" textLength="17.82" lengthAdjust="spacingAndGlyphs" >SubG</text>
<text x="313.32" y="454.10" font-size="4.4" fill="#2a2a2a" stroke="#2a2a2a" stroke-width="0.02" >0</text>
<text x="295.69" y="460.30" font-size="6.6" fill="#2a2a2a" stroke="#2a2a2a" stroke-width="0.03" textLength="8.39" lengthAdjust="spacingAndGlyphs" >G1</text>
<text x="295.66" y="468.40" font-size="6.6" fill="#2a2a2a" stroke="#2a2a2a" stroke-width="0.03" textLength="16.81" lengthAdjust="spacingAndGlyphs" >G2-M</text>
<text x="329.23" y="452.20" font-size="6.6" fill="#2a2a2a" stroke="#2a2a2a" stroke-width="0.03" >3.95</text>
<text x="329.26" y="460.30" font-size="6.6" fill="#2a2a2a" stroke="#2a2a2a" stroke-width="0.03" >54.1</text>
<text x="329.23" y="468.40" font-size="6.6" fill="#2a2a2a" stroke="#2a2a2a" stroke-width="0.03" >16.6</text>
<path d="M377.50,549.80 C377.62,548.92 377.92,548.20 378.20,544.50 C378.48,540.80 378.85,531.18 379.20,527.60 C379.55,524.02 379.95,523.17 380.30,523.00 C380.65,522.83 380.95,524.42 381.30,526.60 C381.65,528.78 381.87,533.47 382.40,536.10 C382.93,538.73 383.62,540.92 384.50,542.40 C385.38,543.88 386.47,544.37 387.70,545.00 C388.93,545.63 390.48,545.92 391.90,546.20 C393.32,546.48 394.97,546.87 396.20,546.70 C397.43,546.53 398.43,546.08 399.30,545.20 C400.17,544.32 400.68,543.62 401.40,541.40 C402.12,539.18 402.88,535.60 403.60,531.90 C404.32,528.20 405.07,522.38 405.70,519.20 C406.33,516.02 406.88,513.17 407.40,512.80 C407.92,512.43 408.28,514.53 408.80,517.00 C409.32,519.47 409.78,524.77 410.50,527.60 C411.22,530.43 411.97,532.05 413.10,534.00 C414.23,535.95 415.72,537.72 417.30,539.30 C418.88,540.88 420.83,542.80 422.60,543.50 C424.37,544.20 426.13,543.85 427.90,543.50 C429.67,543.15 431.72,542.00 433.20,541.40 C434.68,540.80 435.75,539.73 436.80,539.90 C437.85,540.07 438.17,541.45 439.50,542.40 C440.83,543.35 442.50,544.72 444.80,545.60 C447.10,546.48 450.12,547.10 453.30,547.70 C456.48,548.30 460.03,548.85 463.90,549.20 C467.77,549.55 473.52,550.22 476.50,549.80 C479.48,549.38 480.67,547.75 481.80,546.70 C482.93,545.65 483.05,544.03 483.30,543.50 L483.30,550.00 L377.50,550.00 Z" fill="#e5c7bc"/>
<path d="M377.50,549.80 C377.62,548.92 377.92,548.20 378.20,544.50 C378.48,540.80 378.85,531.18 379.20,527.60 C379.55,524.02 379.95,523.17 380.30,523.00 C380.65,522.83 380.95,524.42 381.30,526.60 C381.65,528.78 381.87,533.47 382.40,536.10 C382.93,538.73 383.62,540.92 384.50,542.40 C385.38,543.88 386.47,544.37 387.70,545.00 C388.93,545.63 390.48,545.92 391.90,546.20 C393.32,546.48 394.97,546.87 396.20,546.70 C397.43,546.53 398.43,546.08 399.30,545.20 C400.17,544.32 400.68,543.62 401.40,541.40 C402.12,539.18 402.88,535.60 403.60,531.90 C404.32,528.20 405.07,522.38 405.70,519.20 C406.33,516.02 406.88,513.17 407.40,512.80 C407.92,512.43 408.28,514.53 408.80,517.00 C409.32,519.47 409.78,524.77 410.50,527.60 C411.22,530.43 411.97,532.05 413.10,534.00 C414.23,535.95 415.72,537.72 417.30,539.30 C418.88,540.88 420.83,542.80 422.60,543.50 C424.37,544.20 426.13,543.85 427.90,543.50 C429.67,543.15 431.72,542.00 433.20,541.40 C434.68,540.80 435.75,539.73 436.80,539.90 C437.85,540.07 438.17,541.45 439.50,542.40 C440.83,543.35 442.50,544.72 444.80,545.60 C447.10,546.48 450.12,547.10 453.30,547.70 C456.48,548.30 460.03,548.85 463.90,549.20 C467.77,549.55 473.52,550.22 476.50,549.80 C479.48,549.38 480.67,547.75 481.80,546.70 C482.93,545.65 483.05,544.03 483.30,543.50" fill="none" stroke="#b0173f" stroke-width="1.3" stroke-linejoin="round"/>
<text x="378.38" y="494.20" font-size="5.6" fill="#3a3a3a" stroke="#3a3a3a" stroke-width="0.12" >subG0</text>
<text x="381.08" y="501.20" font-size="5.6" fill="#3a3a3a" stroke="#3a3a3a" stroke-width="0.12" >19.2</text>
<text x="404.05" y="460.30" font-size="5.6" fill="#3a3a3a" stroke="#3a3a3a" stroke-width="0.12" >G1</text>
<text x="402.37" y="467.30" font-size="5.6" fill="#3a3a3a" stroke="#3a3a3a" stroke-width="0.12" >37.5</text>
<text x="434.30" y="494.20" font-size="5.6" fill="#3a3a3a" stroke="#3a3a3a" stroke-width="0.12" >G2-M</text>
<text x="435.74" y="501.20" font-size="5.6" fill="#3a3a3a" stroke="#3a3a3a" stroke-width="0.12" >9.73</text>
<line x1="377.20" y1="508.20" x2="393.00" y2="508.20" stroke="#333" stroke-width="1.25" />
<line x1="393.00" y1="505.90" x2="393.00" y2="510.50" stroke="#333" stroke-width="1.1" />
<line x1="400.80" y1="475.20" x2="414.60" y2="475.20" stroke="#333" stroke-width="1.25" />
<line x1="414.60" y1="472.90" x2="414.60" y2="477.50" stroke="#333" stroke-width="1.1" />
<line x1="400.80" y1="472.90" x2="400.80" y2="477.50" stroke="#333" stroke-width="1.1" />
<line x1="435.70" y1="508.60" x2="447.60" y2="508.60" stroke="#333" stroke-width="1.25" />
<line x1="447.60" y1="506.30" x2="447.60" y2="510.90" stroke="#333" stroke-width="1.1" />
<line x1="435.70" y1="506.30" x2="435.70" y2="510.90" stroke="#333" stroke-width="1.1" />
<rect x="377.20" y="444.60" width="106.10" height="105.40" fill="none" stroke="#111" stroke-width="1.35"/>
<line x1="373.60" y1="467.40" x2="377.20" y2="467.40" stroke="#111" stroke-width="1.0" />
<text x="356.91" y="469.65" font-size="6.4" fill="#333" stroke="#333" stroke-width="0.12" >1.5K</text>
<line x1="373.60" y1="494.90" x2="377.20" y2="494.90" stroke="#111" stroke-width="1.0" />
<text x="356.91" y="497.15" font-size="6.4" fill="#333" stroke="#333" stroke-width="0.12" >1.0K</text>
<line x1="373.60" y1="522.60" x2="377.20" y2="522.60" stroke="#111" stroke-width="1.0" />
<text x="359.57" y="524.85" font-size="6.4" fill="#333" stroke="#333" stroke-width="0.12" >500</text>
<line x1="373.60" y1="550.00" x2="377.20" y2="550.00" stroke="#111" stroke-width="1.0" />
<text x="366.67" y="552.25" font-size="6.4" fill="#333" stroke="#333" stroke-width="0.12" >0</text>
<line x1="375.30" y1="550.00" x2="377.20" y2="550.00" stroke="#111" stroke-width="0.9" />
<line x1="375.30" y1="544.50" x2="377.20" y2="544.50" stroke="#111" stroke-width="0.9" />
<line x1="375.30" y1="539.00" x2="377.20" y2="539.00" stroke="#111" stroke-width="0.9" />
<line x1="375.30" y1="533.50" x2="377.20" y2="533.50" stroke="#111" stroke-width="0.9" />
<line x1="375.30" y1="528.00" x2="377.20" y2="528.00" stroke="#111" stroke-width="0.9" />
<line x1="375.30" y1="522.50" x2="377.20" y2="522.50" stroke="#111" stroke-width="0.9" />
<line x1="375.30" y1="517.00" x2="377.20" y2="517.00" stroke="#111" stroke-width="0.9" />
<line x1="375.30" y1="511.50" x2="377.20" y2="511.50" stroke="#111" stroke-width="0.9" />
<line x1="375.30" y1="506.00" x2="377.20" y2="506.00" stroke="#111" stroke-width="0.9" />
<line x1="375.30" y1="500.50" x2="377.20" y2="500.50" stroke="#111" stroke-width="0.9" />
<line x1="375.30" y1="495.00" x2="377.20" y2="495.00" stroke="#111" stroke-width="0.9" />
<line x1="375.30" y1="489.50" x2="377.20" y2="489.50" stroke="#111" stroke-width="0.9" />
<line x1="375.30" y1="484.00" x2="377.20" y2="484.00" stroke="#111" stroke-width="0.9" />
<line x1="375.30" y1="478.50" x2="377.20" y2="478.50" stroke="#111" stroke-width="0.9" />
<line x1="375.30" y1="473.00" x2="377.20" y2="473.00" stroke="#111" stroke-width="0.9" />
<line x1="375.30" y1="467.50" x2="377.20" y2="467.50" stroke="#111" stroke-width="0.9" />
<line x1="375.30" y1="462.00" x2="377.20" y2="462.00" stroke="#111" stroke-width="0.9" />
<line x1="375.30" y1="456.50" x2="377.20" y2="456.50" stroke="#111" stroke-width="0.9" />
<line x1="375.30" y1="451.00" x2="377.20" y2="451.00" stroke="#111" stroke-width="0.9" />
<line x1="377.20" y1="550.00" x2="377.20" y2="553.00" stroke="#111" stroke-width="1.0" />
<line x1="381.28" y1="550.00" x2="381.28" y2="551.70" stroke="#111" stroke-width="0.9" />
<line x1="385.36" y1="550.00" x2="385.36" y2="551.70" stroke="#111" stroke-width="0.9" />
<line x1="389.44" y1="550.00" x2="389.44" y2="551.70" stroke="#111" stroke-width="0.9" />
<line x1="393.52" y1="550.00" x2="393.52" y2="551.70" stroke="#111" stroke-width="0.9" />
<line x1="397.60" y1="550.00" x2="397.60" y2="553.00" stroke="#111" stroke-width="1.0" />
<line x1="401.68" y1="550.00" x2="401.68" y2="551.70" stroke="#111" stroke-width="0.9" />
<line x1="405.76" y1="550.00" x2="405.76" y2="551.70" stroke="#111" stroke-width="0.9" />
<line x1="409.84" y1="550.00" x2="409.84" y2="551.70" stroke="#111" stroke-width="0.9" />
<line x1="413.92" y1="550.00" x2="413.92" y2="551.70" stroke="#111" stroke-width="0.9" />
<line x1="418.00" y1="550.00" x2="418.00" y2="553.00" stroke="#111" stroke-width="1.0" />
<line x1="422.08" y1="550.00" x2="422.08" y2="551.70" stroke="#111" stroke-width="0.9" />
<line x1="426.16" y1="550.00" x2="426.16" y2="551.70" stroke="#111" stroke-width="0.9" />
<line x1="430.24" y1="550.00" x2="430.24" y2="551.70" stroke="#111" stroke-width="0.9" />
<line x1="434.32" y1="550.00" x2="434.32" y2="551.70" stroke="#111" stroke-width="0.9" />
<line x1="438.40" y1="550.00" x2="438.40" y2="553.00" stroke="#111" stroke-width="1.0" />
<line x1="442.48" y1="550.00" x2="442.48" y2="551.70" stroke="#111" stroke-width="0.9" />
<line x1="446.56" y1="550.00" x2="446.56" y2="551.70" stroke="#111" stroke-width="0.9" />
<line x1="450.64" y1="550.00" x2="450.64" y2="551.70" stroke="#111" stroke-width="0.9" />
<line x1="454.72" y1="550.00" x2="454.72" y2="551.70" stroke="#111" stroke-width="0.9" />
<line x1="458.80" y1="550.00" x2="458.80" y2="553.00" stroke="#111" stroke-width="1.0" />
<line x1="462.88" y1="550.00" x2="462.88" y2="551.70" stroke="#111" stroke-width="0.9" />
<line x1="466.96" y1="550.00" x2="466.96" y2="551.70" stroke="#111" stroke-width="0.9" />
<line x1="471.04" y1="550.00" x2="471.04" y2="551.70" stroke="#111" stroke-width="0.9" />
<line x1="475.12" y1="550.00" x2="475.12" y2="551.70" stroke="#111" stroke-width="0.9" />
<line x1="479.20" y1="550.00" x2="479.20" y2="553.00" stroke="#111" stroke-width="1.0" />
<line x1="483.28" y1="550.00" x2="483.28" y2="551.70" stroke="#111" stroke-width="0.9" />
<text x="375.41" y="563.00" font-size="6.4" fill="#333" stroke="#333" stroke-width="0.12" >0</text>
<text x="391.82" y="563.00" font-size="6.4" fill="#333" stroke="#333" stroke-width="0.12" >50K</text>
<text x="410.32" y="563.00" font-size="6.4" fill="#333" stroke="#333" stroke-width="0.12" >100K</text>
<text x="430.72" y="563.00" font-size="6.4" fill="#333" stroke="#333" stroke-width="0.12" >150K</text>
<text x="451.20" y="563.00" font-size="6.4" fill="#333" stroke="#333" stroke-width="0.12" >200K</text>
<text x="471.60" y="563.00" font-size="6.4" fill="#333" stroke="#333" stroke-width="0.12" >250K</text>
<text x="431.79" y="453.20" font-size="6.6" fill="#2a2a2a" stroke="#2a2a2a" stroke-width="0.03" textLength="17.82" lengthAdjust="spacingAndGlyphs" >SubG</text>
<text x="449.42" y="455.10" font-size="4.4" fill="#2a2a2a" stroke="#2a2a2a" stroke-width="0.02" >0</text>
<text x="431.79" y="461.00" font-size="6.6" fill="#2a2a2a" stroke="#2a2a2a" stroke-width="0.03" textLength="8.39" lengthAdjust="spacingAndGlyphs" >G1</text>
<text x="431.76" y="469.00" font-size="6.6" fill="#2a2a2a" stroke="#2a2a2a" stroke-width="0.03" textLength="16.81" lengthAdjust="spacingAndGlyphs" >G2-M</text>
<text x="465.49" y="453.20" font-size="6.6" fill="#2a2a2a" stroke="#2a2a2a" stroke-width="0.03" >19.2</text>
<text x="465.43" y="461.00" font-size="6.6" fill="#2a2a2a" stroke="#2a2a2a" stroke-width="0.03" >37.5</text>
<text x="465.43" y="469.00" font-size="6.6" fill="#2a2a2a" stroke="#2a2a2a" stroke-width="0.03" >9.73</text>
<text x="7.91" y="607.00" font-size="13.6" fill="#111" stroke="#111" stroke-width="0.2" textLength="6.61" lengthAdjust="spacingAndGlyphs" >E</text>
<text x="68.75" y="618.00" font-size="10.0" fill="#231f20" stroke="#231f20" stroke-width="0.2" textLength="105.57" lengthAdjust="spacingAndGlyphs" >24 hour AZ20 treatment</text>
<line x1="47.60" y1="624.50" x2="47.60" y2="726.40" stroke="#231f20" stroke-width="1.4" />
<line x1="47.00" y1="725.70" x2="195.50" y2="725.70" stroke="#231f20" stroke-width="1.4" />
<line x1="44.20" y1="725.70" x2="47.60" y2="725.70" stroke="#231f20" stroke-width="1.1" />
<text x="36.44" y="728.60" font-size="8.0" fill="#231f20" stroke="#231f20" stroke-width="0.2" >0</text>
<line x1="44.20" y1="706.10" x2="47.60" y2="706.10" stroke="#231f20" stroke-width="1.1" />
<text x="32.00" y="709.00" font-size="8.0" fill="#231f20" stroke="#231f20" stroke-width="0.2" >20</text>
<line x1="44.20" y1="686.50" x2="47.60" y2="686.50" stroke="#231f20" stroke-width="1.1" />
<text x="32.00" y="689.40" font-size="8.0" fill="#231f20" stroke="#231f20" stroke-width="0.2" >40</text>
<line x1="44.20" y1="666.90" x2="47.60" y2="666.90" stroke="#231f20" stroke-width="1.1" />
<text x="32.00" y="669.80" font-size="8.0" fill="#231f20" stroke="#231f20" stroke-width="0.2" >60</text>
<line x1="44.20" y1="647.30" x2="47.60" y2="647.30" stroke="#231f20" stroke-width="1.1" />
<text x="32.00" y="650.20" font-size="8.0" fill="#231f20" stroke="#231f20" stroke-width="0.2" >80</text>
<line x1="44.20" y1="627.70" x2="47.60" y2="627.70" stroke="#231f20" stroke-width="1.1" />
<text x="27.56" y="630.60" font-size="8.0" fill="#231f20" stroke="#231f20" stroke-width="0.2" >100</text>
<text transform="translate(19.90,705.50) rotate(-90)" x="-0.34" y="0" font-size="10.5" fill="#231f20" textLength="60.82" lengthAdjust="spacingAndGlyphs" stroke="#231f20" stroke-width="0.2">% annexin V+</text>
<line x1="54.38" y1="697.50" x2="54.38" y2="691.20" stroke="#a3082e" stroke-width="1.1" />
<line x1="52.77" y1="691.20" x2="55.98" y2="691.20" stroke="#a3082e" stroke-width="1.1" />
<rect x="51.75" y="697.50" width="5.25" height="28.20" fill="#a3082e" />
<line x1="62.62" y1="689.25" x2="62.62" y2="684.20" stroke="#a3082e" stroke-width="1.1" />
<line x1="61.02" y1="684.20" x2="64.22" y2="684.20" stroke="#a3082e" stroke-width="1.1" />
<rect x="60.00" y="689.25" width="5.25" height="36.45" fill="#a3082e" />
<line x1="70.75" y1="668.75" x2="70.75" y2="664.50" stroke="#a3082e" stroke-width="1.1" />
<line x1="69.15" y1="664.50" x2="72.35" y2="664.50" stroke="#a3082e" stroke-width="1.1" />
<rect x="68.00" y="668.75" width="5.50" height="56.95" fill="#a3082e" />
<line x1="54.38" y1="725.70" x2="54.38" y2="728.90" stroke="#231f20" stroke-width="1.0" />
<text x="52.25" y="740.10" font-size="7.6" fill="#231f20" stroke="#231f20" stroke-width="0.2" >0</text>
<line x1="62.62" y1="725.70" x2="62.62" y2="728.90" stroke="#231f20" stroke-width="1.0" />
<text x="60.40" y="740.10" font-size="7.6" fill="#231f20" stroke="#231f20" stroke-width="0.2" >1</text>
<line x1="70.75" y1="725.70" x2="70.75" y2="728.90" stroke="#231f20" stroke-width="1.0" />
<text x="68.66" y="740.10" font-size="7.6" fill="#231f20" stroke="#231f20" stroke-width="0.2" >3</text>
<line x1="84.25" y1="697.00" x2="84.25" y2="693.00" stroke="#6bb03d" stroke-width="1.1" />
<line x1="82.65" y1="693.00" x2="85.85" y2="693.00" stroke="#6bb03d" stroke-width="1.1" />
<rect x="81.75" y="697.00" width="5.00" height="28.70" fill="#6bb03d" />
<line x1="91.88" y1="689.25" x2="91.88" y2="685.20" stroke="#6bb03d" stroke-width="1.1" />
<line x1="90.28" y1="685.20" x2="93.47" y2="685.20" stroke="#6bb03d" stroke-width="1.1" />
<rect x="89.25" y="689.25" width="5.25" height="36.45" fill="#6bb03d" />
<line x1="100.12" y1="672.50" x2="100.12" y2="665.50" stroke="#6bb03d" stroke-width="1.1" />
<line x1="98.53" y1="665.50" x2="101.72" y2="665.50" stroke="#6bb03d" stroke-width="1.1" />
<rect x="97.50" y="672.50" width="5.25" height="53.20" fill="#6bb03d" />
<line x1="84.25" y1="725.70" x2="84.25" y2="728.90" stroke="#231f20" stroke-width="1.0" />
<text x="82.12" y="740.10" font-size="7.6" fill="#231f20" stroke="#231f20" stroke-width="0.2" >0</text>
<line x1="91.88" y1="725.70" x2="91.88" y2="728.90" stroke="#231f20" stroke-width="1.0" />
<text x="89.65" y="740.10" font-size="7.6" fill="#231f20" stroke="#231f20" stroke-width="0.2" >1</text>
<line x1="100.12" y1="725.70" x2="100.12" y2="728.90" stroke="#231f20" stroke-width="1.0" />
<text x="98.03" y="740.10" font-size="7.6" fill="#231f20" stroke="#231f20" stroke-width="0.2" >3</text>
<line x1="113.38" y1="702.50" x2="113.38" y2="697.00" stroke="#d0127d" stroke-width="1.1" />
<line x1="111.78" y1="697.00" x2="114.97" y2="697.00" stroke="#d0127d" stroke-width="1.1" />
<rect x="110.75" y="702.50" width="5.25" height="23.20" fill="#d0127d" />
<line x1="121.38" y1="693.00" x2="121.38" y2="689.00" stroke="#d0127d" stroke-width="1.1" />
<line x1="119.78" y1="689.00" x2="122.97" y2="689.00" stroke="#d0127d" stroke-width="1.1" />
<rect x="118.75" y="693.00" width="5.25" height="32.70" fill="#d0127d" />
<line x1="129.65" y1="663.75" x2="129.65" y2="661.00" stroke="#d0127d" stroke-width="1.1" />
<line x1="128.05" y1="661.00" x2="131.25" y2="661.00" stroke="#d0127d" stroke-width="1.1" />
<rect x="127.00" y="663.75" width="5.30" height="61.95" fill="#d0127d" />
<line x1="113.38" y1="725.70" x2="113.38" y2="728.90" stroke="#231f20" stroke-width="1.0" />
<text x="111.25" y="740.10" font-size="7.6" fill="#231f20" stroke="#231f20" stroke-width="0.2" >0</text>
<line x1="121.38" y1="725.70" x2="121.38" y2="728.90" stroke="#231f20" stroke-width="1.0" />
<text x="119.15" y="740.10" font-size="7.6" fill="#231f20" stroke="#231f20" stroke-width="0.2" >1</text>
<line x1="129.65" y1="725.70" x2="129.65" y2="728.90" stroke="#231f20" stroke-width="1.0" />
<text x="127.56" y="740.10" font-size="7.6" fill="#231f20" stroke="#231f20" stroke-width="0.2" >3</text>
<line x1="142.90" y1="701.50" x2="142.90" y2="696.30" stroke="#e8951d" stroke-width="1.1" />
<line x1="141.30" y1="696.30" x2="144.50" y2="696.30" stroke="#e8951d" stroke-width="1.1" />
<rect x="140.30" y="701.50" width="5.20" height="24.20" fill="#e8951d" />
<line x1="150.90" y1="691.70" x2="150.90" y2="686.80" stroke="#e8951d" stroke-width="1.1" />
<line x1="149.30" y1="686.80" x2="152.50" y2="686.80" stroke="#e8951d" stroke-width="1.1" />
<rect x="148.30" y="691.70" width="5.20" height="34.00" fill="#e8951d" />
<line x1="158.90" y1="659.10" x2="158.90" y2="651.70" stroke="#e8951d" stroke-width="1.1" />
<line x1="157.30" y1="651.70" x2="160.50" y2="651.70" stroke="#e8951d" stroke-width="1.1" />
<rect x="156.30" y="659.10" width="5.20" height="66.60" fill="#e8951d" />
<line x1="142.90" y1="725.70" x2="142.90" y2="728.90" stroke="#231f20" stroke-width="1.0" />
<text x="140.77" y="740.10" font-size="7.6" fill="#231f20" stroke="#231f20" stroke-width="0.2" >0</text>
<line x1="150.90" y1="725.70" x2="150.90" y2="728.90" stroke="#231f20" stroke-width="1.0" />
<text x="148.68" y="740.10" font-size="7.6" fill="#231f20" stroke="#231f20" stroke-width="0.2" >1</text>
<line x1="158.90" y1="725.70" x2="158.90" y2="728.90" stroke="#231f20" stroke-width="1.0" />
<text x="156.81" y="740.10" font-size="7.6" fill="#231f20" stroke="#231f20" stroke-width="0.2" >3</text>
<line x1="172.15" y1="700.90" x2="172.15" y2="694.80" stroke="#2f6b4e" stroke-width="1.1" />
<line x1="170.55" y1="694.80" x2="173.75" y2="694.80" stroke="#2f6b4e" stroke-width="1.1" />
<rect x="169.50" y="700.90" width="5.30" height="24.80" fill="#2f6b4e" />
<line x1="180.25" y1="678.50" x2="180.25" y2="660.00" stroke="#2f6b4e" stroke-width="1.1" />
<line x1="178.65" y1="660.00" x2="181.85" y2="660.00" stroke="#2f6b4e" stroke-width="1.1" />
<rect x="177.50" y="678.50" width="5.50" height="47.20" fill="#2f6b4e" />
<line x1="188.30" y1="653.50" x2="188.30" y2="638.80" stroke="#2f6b4e" stroke-width="1.1" />
<line x1="186.70" y1="638.80" x2="189.90" y2="638.80" stroke="#2f6b4e" stroke-width="1.1" />
<rect x="185.80" y="653.50" width="5.00" height="72.20" fill="#2f6b4e" />
<line x1="172.15" y1="725.70" x2="172.15" y2="728.90" stroke="#231f20" stroke-width="1.0" />
<text x="170.02" y="740.10" font-size="7.6" fill="#231f20" stroke="#231f20" stroke-width="0.2" >0</text>
<line x1="180.25" y1="725.70" x2="180.25" y2="728.90" stroke="#231f20" stroke-width="1.0" />
<text x="178.03" y="740.10" font-size="7.6" fill="#231f20" stroke="#231f20" stroke-width="0.2" >1</text>
<line x1="188.30" y1="725.70" x2="188.30" y2="728.90" stroke="#231f20" stroke-width="1.0" />
<text x="186.21" y="740.10" font-size="7.6" fill="#231f20" stroke="#231f20" stroke-width="0.2" >3</text>
<text x="95.93" y="754.40" font-size="9.2" fill="#231f20" stroke="#231f20" stroke-width="0.2" textLength="50.89" lengthAdjust="spacingAndGlyphs" >[AZ20] (µM)</text>
<rect x="208.10" y="653.80" width="10.60" height="5.00" fill="#a3082e" />
<rect x="208.10" y="666.40" width="10.60" height="5.00" fill="#6bb03d" />
<rect x="208.10" y="678.80" width="10.60" height="5.00" fill="#d0127d" />
<rect x="208.10" y="691.00" width="10.60" height="5.00" fill="#e8951d" />
<rect x="208.10" y="703.50" width="10.60" height="5.00" fill="#2f6b4e" />
<text x="221.47" y="658.70" font-size="8.0" fill="#231f20" stroke="#231f20" stroke-width="0.2" textLength="63.02" lengthAdjust="spacingAndGlyphs" >Mll-Af9 retro (#45)</text>
<text x="221.47" y="671.20" font-size="8.0" fill="#231f20" stroke="#231f20" stroke-width="0.2" textLength="63.02" lengthAdjust="spacingAndGlyphs" >Mll-Af9 retro (#46)</text>
<text x="221.49" y="683.40" font-size="8.0" fill="#231f20" stroke="#231f20" stroke-width="0.2" textLength="47.35" lengthAdjust="spacingAndGlyphs" >Mll-Af9 Kl #09</text>
<text x="221.47" y="695.70" font-size="8.0" fill="#231f20" stroke="#231f20" stroke-width="0.2" textLength="43.00" lengthAdjust="spacingAndGlyphs" >Mll-Af4/Nras</text>
<text x="264.83" y="692.60" font-size="5.9" fill="#231f20" stroke="#231f20" stroke-width="0.2" textLength="14.23" lengthAdjust="spacingAndGlyphs" >G12D</text>
<text x="221.47" y="707.80" font-size="8.0" fill="#231f20" stroke="#231f20" stroke-width="0.2" textLength="43.00" lengthAdjust="spacingAndGlyphs" >Mll-Af4/Nras</text>
<text x="264.83" y="704.70" font-size="5.9" fill="#231f20" stroke="#231f20" stroke-width="0.2" textLength="14.23" lengthAdjust="spacingAndGlyphs" >G12D</text>
<text x="222.05" y="718.00" font-size="8.0" fill="#231f20" stroke="#231f20" stroke-width="0.2" textLength="34.83" lengthAdjust="spacingAndGlyphs" >-cytokines</text>
<text x="308.59" y="606.70" font-size="13.3" fill="#111" stroke="#111" stroke-width="0.2" textLength="6.98" lengthAdjust="spacingAndGlyphs" >F</text>
<line x1="344.30" y1="620.00" x2="344.30" y2="729.80" stroke="#231f20" stroke-width="1.4" />
<line x1="343.80" y1="729.20" x2="509.80" y2="729.20" stroke="#231f20" stroke-width="1.4" />
<line x1="340.80" y1="729.20" x2="344.30" y2="729.20" stroke="#231f20" stroke-width="1.1" />
<text x="332.73" y="732.20" font-size="8.4" fill="#231f20" stroke="#231f20" stroke-width="0.2" >0</text>
<line x1="340.80" y1="680.00" x2="344.30" y2="680.00" stroke="#231f20" stroke-width="1.1" />
<text x="328.07" y="683.00" font-size="8.4" fill="#231f20" stroke="#231f20" stroke-width="0.2" >50</text>
<line x1="340.80" y1="630.80" x2="344.30" y2="630.80" stroke="#231f20" stroke-width="1.1" />
<text x="323.41" y="633.80" font-size="8.4" fill="#231f20" stroke="#231f20" stroke-width="0.2" >100</text>
<line x1="344.30" y1="729.20" x2="344.30" y2="732.20" stroke="#231f20" stroke-width="1.1" />
<text x="341.98" y="743.80" font-size="8.3" fill="#231f20" stroke="#231f20" stroke-width="0.2" >0</text>
<line x1="398.40" y1="729.20" x2="398.40" y2="732.20" stroke="#231f20" stroke-width="1.1" />
<text x="393.63" y="743.80" font-size="8.3" fill="#231f20" stroke="#231f20" stroke-width="0.2" >10</text>
<line x1="452.50" y1="729.20" x2="452.50" y2="732.20" stroke="#231f20" stroke-width="1.1" />
<text x="447.83" y="743.80" font-size="8.3" fill="#231f20" stroke="#231f20" stroke-width="0.2" >20</text>
<line x1="506.60" y1="729.20" x2="506.60" y2="732.20" stroke="#231f20" stroke-width="1.1" />
<text x="501.99" y="743.80" font-size="8.3" fill="#231f20" stroke="#231f20" stroke-width="0.2" >30</text>
<text transform="translate(316.00,709.20) rotate(-90)" x="-0.79" y="0" font-size="10.3" fill="#231f20" textLength="70.58" lengthAdjust="spacingAndGlyphs" stroke="#231f20" stroke-width="0.2">Percent survival</text>
<text x="381.40" y="758.60" font-size="10.0" fill="#231f20" stroke="#231f20" stroke-width="0.2" textLength="90.86" lengthAdjust="spacingAndGlyphs" >Days post transplant</text>
<path d="M344.3,630.80 L430.86,630.80 L430.86,680.00 L447.09,680.00 L447.09,729.2" fill="none" stroke="#c4c4c4" stroke-width="1.3"/>
<path d="M431.40,630.80 L468.73,630.80 L468.73,663.57 L474.14,663.57 L474.14,729.2" fill="none" stroke="#a80d35" stroke-width="1.6"/>
<line x1="428.40" y1="615.80" x2="467.60" y2="615.80" stroke="#333" stroke-width="1.2" />
<line x1="428.40" y1="611.00" x2="428.40" y2="620.50" stroke="#333" stroke-width="1.0" />
<line x1="467.60" y1="611.00" x2="467.60" y2="620.50" stroke="#333" stroke-width="1.0" />
<circle cx="449.0" cy="611.4" r="1.3" fill="#333" filter="url(#bl2)"/>
<line x1="394.20" y1="601.00" x2="394.20" y2="621.50" stroke="#a80d35" stroke-width="1.1" />
<path d="M394.2,627.9 L390.3,618.6 L394.2,621.0 L398.1,618.6 Z" fill="#a80d35"/>
<line x1="349.20" y1="706.20" x2="361.00" y2="706.20" stroke="#c4c4c4" stroke-width="1.2" />
<line x1="355.10" y1="705.20" x2="355.10" y2="707.20" stroke="#888" stroke-width="0.8" />
<text x="363.96" y="708.40" font-size="8.0" fill="#231f20" stroke="#231f20" stroke-width="0.2" textLength="25.55" lengthAdjust="spacingAndGlyphs" >Vehicle</text>
<line x1="349.20" y1="717.00" x2="361.00" y2="717.00" stroke="#a80d35" stroke-width="1.6" />
<line x1="355.10" y1="715.80" x2="355.10" y2="718.20" stroke="#555" stroke-width="0.8" />
<text x="364.00" y="719.50" font-size="8.0" fill="#231f20" stroke="#231f20" stroke-width="0.2" textLength="51.91" lengthAdjust="spacingAndGlyphs" >AZ20 50mg/kg</text>
<line x1="0.60" y1="0.00" x2="0.60" y2="771.00" stroke="#161616" stroke-width="1.4" />
<line x1="0.00" y1="0.60" x2="520.00" y2="0.60" stroke="#161616" stroke-width="1.4" />
<line x1="519.40" y1="0.00" x2="519.40" y2="771.00" stroke="#0c0c0c" stroke-width="1.3" />
<rect x="0.00" y="769.00" width="520.00" height="2.00" fill="#404040" />
</svg></body></html>
